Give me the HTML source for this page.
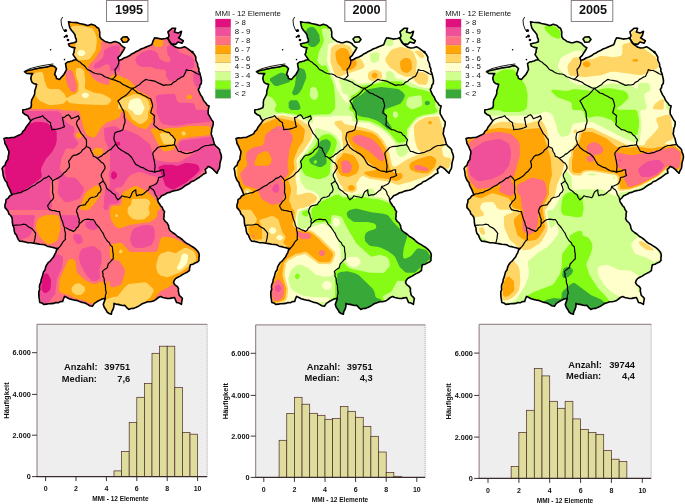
<!DOCTYPE html><html><head><meta charset="utf-8"><title>MMI - 12 Elemente</title>
<style>html,body{margin:0;padding:0;background:#fff}svg{display:block}text{font-family:"Liberation Sans",sans-serif;fill:#111}.b{font-weight:bold}</style></head><body>
<svg width="685" height="504" viewBox="0 0 685 504">
<rect width="685" height="504" fill="#fff"/>
<defs>
<clipPath id="ger"><path d="M68.5 21.9 L71.2 22.3 L74.0 22.5 L76.8 22.6 L79.4 23.5 L82.1 24.0 L84.7 24.6 L87.3 25.5 L89.3 25.1 L91.3 24.3 L95.0 25.5 L96.6 27.2 L98.6 28.3 L99.8 32.0 L99.7 34.4 L99.8 36.8 L101.2 38.8 L103.2 40.2 L104.9 41.4 L107.0 42.0 L109.0 42.7 L111.1 42.7 L113.1 42.1 L115.0 41.5 L118.0 42.5 L119.8 43.4 L121.0 45.0 L122.8 46.6 L124.9 47.7 L123.5 50.3 L121.9 52.7 L120.3 55.4 L117.9 57.6 L118.9 60.6 L121.6 59.5 L124.0 58.0 L126.9 56.9 L129.8 55.6 L131.6 54.0 L133.9 53.1 L135.8 51.7 L138.5 50.6 L141.0 49.0 L143.9 48.0 L146.7 46.7 L149.2 45.7 L151.7 44.7 L152.5 42.9 L153.0 41.0 L154.6 37.8 L156.8 38.1 L159.0 38.5 L161.3 39.1 L163.6 38.8 L165.6 38.5 L167.5 37.8 L168.8 39.8 L169.5 42.0 L171.4 44.2 L173.8 45.8 L176.0 47.3 L178.6 48.0 L181.6 47.7 L184.5 46.8 L187.0 48.1 L189.3 49.8 L191.7 51.7 L194.0 53.9 L195.8 57.0 L195.8 60.0 L196.7 62.0 L197.6 64.0 L197.7 66.4 L198.9 68.7 L198.8 71.2 L199.8 73.0 L200.3 75.0 L201.0 77.8 L201.5 80.5 L201.3 83.4 L199.9 85.2 L199.6 87.5 L198.3 89.4 L199.3 92.2 L200.6 94.9 L202.3 97.3 L203.3 99.9 L204.6 101.7 L206.1 103.3 L207.2 105.2 L209.2 105.9 L208.5 108.5 L208.1 111.1 L208.2 113.8 L209.4 115.8 L210.5 117.9 L211.7 119.9 L213.2 121.7 L213.2 124.2 L212.7 126.5 L211.8 128.9 L211.6 131.3 L211.2 133.7 L212.0 136.2 L213.0 138.5 L213.6 141.1 L214.2 143.6 L215.6 145.9 L217.7 147.6 L219.5 149.5 L220.0 152.0 L221.0 154.4 L221.5 157.0 L221.0 159.2 L220.4 161.5 L219.9 163.7 L219.8 166.0 L219.3 168.6 L217.9 170.8 L217.1 173.3 L215.1 171.4 L213.2 169.4 L210.9 167.6 L208.2 166.4 L206.9 168.1 L205.2 169.4 L206.0 173.0 L203.6 174.0 L201.6 175.6 L199.5 177.2 L197.3 178.5 L195.3 179.8 L193.4 181.1 L191.1 181.8 L189.4 183.5 L186.8 184.8 L184.3 186.3 L182.0 188.2 L179.4 189.5 L177.1 190.3 L174.6 190.6 L172.2 191.2 L169.9 192.4 L167.5 192.8 L165.6 194.0 L163.6 194.9 L161.6 195.8 L159.8 198.0 L157.6 199.8 L158.2 202.0 L159.4 203.8 L160.6 205.7 L162.3 207.4 L163.1 209.8 L164.6 211.7 L164.0 214.0 L164.1 216.3 L163.6 218.6 L165.0 221.1 L167.2 223.0 L168.5 225.6 L168.9 228.2 L170.0 230.5 L172.5 232.5 L175.2 234.2 L177.5 236.5 L180.0 237.8 L182.2 239.5 L184.2 241.5 L186.4 243.2 L188.8 244.4 L191.0 245.8 L193.3 247.2 L195.4 248.9 L197.3 250.8 L198.8 253.0 L199.3 255.5 L198.9 258.0 L199.0 260.5 L197.4 262.1 L195.3 262.9 L193.0 264.2 L190.4 264.7 L189.7 267.7 L189.4 270.7 L187.2 272.2 L184.8 273.4 L182.4 274.6 L180.2 276.1 L177.8 277.3 L175.5 278.6 L174.2 280.5 L173.5 282.6 L174.9 284.8 L177.1 286.3 L178.5 288.5 L178.3 290.9 L178.8 293.2 L179.4 295.5 L181.0 296.9 L182.4 298.5 L181.8 301.4 L181.4 304.4 L179.1 303.1 L176.5 302.4 L175.5 300.0 L174.5 297.5 L172.2 297.9 L169.9 298.4 L167.5 298.5 L165.2 298.0 L162.8 297.5 L160.6 296.5 L158.4 297.5 L156.5 299.0 L154.6 300.4 L152.4 301.2 L150.2 301.8 L147.9 301.7 L145.7 302.4 L143.6 303.2 L141.6 304.1 L139.8 305.4 L137.9 306.6 L135.8 307.4 L133.8 308.4 L131.2 308.5 L128.8 309.4 L126.7 307.6 L124.9 305.4 L122.5 305.5 L120.2 304.9 L117.9 304.4 L115.9 304.1 L114.0 303.4 L113.9 306.5 L113.0 309.4 L111.8 311.7 L111.3 314.3 L109.2 313.5 L107.3 312.3 L105.9 309.7 L104.2 307.2 L103.3 304.4 L104.4 301.4 L105.3 298.4 L102.2 299.0 L99.4 300.4 L96.8 301.8 L94.4 303.4 L92.4 306.3 L89.8 305.8 L87.5 304.4 L85.0 303.0 L82.2 302.4 L79.5 301.4 L77.0 300.4 L74.2 300.1 L71.6 299.4 L69.1 298.8 L66.9 297.5 L64.6 296.4 L63.5 298.8 L62.7 301.4 L60.4 301.6 L58.3 302.7 L55.9 302.5 L53.7 303.4 L51.2 303.6 L48.7 303.8 L46.3 304.1 L43.8 304.4 L42.0 303.0 L39.8 302.4 L39.4 299.7 L39.0 297.1 L38.8 294.4 L38.8 291.9 L39.7 289.5 L39.4 287.0 L39.8 284.5 L40.9 282.1 L41.2 279.5 L42.2 277.1 L42.8 274.6 L43.5 272.0 L45.1 269.8 L45.6 267.1 L46.8 264.7 L48.3 262.5 L50.4 260.8 L52.0 258.8 L53.7 256.7 L54.6 254.6 L55.8 252.6 L56.5 250.3 L58.0 248.5 L55.8 248.4 L53.8 247.6 L51.6 247.3 L49.4 246.6 L47.0 246.2 L45.0 244.9 L42.7 244.5 L39.7 244.3 L36.7 243.6 L33.7 243.3 L30.8 242.8 L27.8 242.8 L25.2 242.0 L22.6 241.4 L19.8 241.3 L18.3 239.5 L17.3 237.4 L16.5 235.1 L14.9 233.4 L14.2 230.8 L14.0 228.0 L12.9 225.5 L12.4 222.8 L12.3 220.2 L11.9 217.5 L10.6 215.5 L8.8 213.8 L8.1 211.3 L6.6 209.4 L5.0 207.6 L4.9 204.9 L5.8 202.3 L6.0 199.7 L8.1 198.2 L9.6 196.0 L11.9 194.7 L10.9 192.4 L10.0 190.1 L8.9 187.8 L7.6 185.3 L6.9 182.6 L5.1 180.4 L4.0 177.9 L3.2 175.6 L3.0 173.3 L2.7 170.9 L2.0 168.6 L3.2 166.6 L5.0 165.3 L5.6 163.2 L6.5 161.2 L7.9 159.4 L8.1 156.7 L8.7 154.1 L8.9 151.4 L7.6 148.8 L6.5 146.1 L5.0 143.5 L4.6 141.0 L4.0 138.5 L6.4 137.9 L8.9 138.0 L11.4 137.5 L13.9 137.5 L16.6 136.3 L19.2 135.1 L21.8 133.6 L22.9 131.4 L24.7 129.8 L25.8 127.6 L27.5 125.3 L29.3 123.1 L30.8 120.7 L29.0 118.4 L27.8 115.7 L25.1 114.5 L22.8 112.7 L22.8 109.8 L25.6 109.5 L28.2 108.7 L30.8 107.8 L31.4 105.2 L31.3 102.5 L31.7 99.8 L32.8 97.9 L33.8 95.9 L34.7 93.9 L34.8 90.9 L35.7 88.0 L36.7 84.4 L34.2 83.8 L32.1 82.4 L31.3 80.5 L30.8 78.5 L31.3 75.8 L32.7 73.5 L29.8 73.6 L26.8 73.5 L24.8 71.9 L27.2 70.7 L29.8 70.1 L32.3 69.7 L34.7 68.9 L37.3 68.6 L39.7 67.9 L42.3 67.6 L44.9 67.2 L47.5 66.9 L50.0 65.9 L52.6 65.6 L54.7 66.8 L56.5 68.5 L55.5 71.5 L54.6 74.5 L56.0 76.3 L56.5 78.5 L59.5 79.4 L60.9 77.7 L62.4 76.1 L63.9 74.5 L65.3 72.0 L66.5 69.5 L66.0 66.5 L65.5 63.6 L67.5 62.0 L69.8 61.6 L72.0 61.0 L74.1 60.0 L76.4 59.6 L74.8 57.1 L73.0 54.6 L74.0 52.4 L74.2 50.0 L75.0 47.7 L72.1 47.4 L69.4 46.1 L68.5 44.1 L71.1 43.3 L73.8 42.7 L76.4 41.7 L76.3 39.3 L75.3 37.1 L75.0 34.8 L73.3 32.4 L71.4 30.3 L69.8 27.9 L69.1 24.9Z"/>
<path d="M167.9 31.9 L172.0 28.3 L175.6 28.3 L174.4 31.9 L178.0 33.1 L181.5 31.3 L180.4 35.5 L178.6 37.9 L183.3 40.8 L182.1 43.2 L178.0 42.0 L175.6 44.4 L171.4 43.8 L167.9 39.0 L169.0 35.5Z"/>
<path d="M121.0 39.0 L123.0 37.0 L127.0 36.8 L129.0 39.5 L127.0 42.0 L123.0 42.3Z"/>
</clipPath>
<g id="lines" fill="none" stroke="#000" stroke-linejoin="round" stroke-linecap="round">
<path stroke-width="1.6" d="M68.5 21.9 L71.2 22.3 L74.0 22.5 L76.8 22.6 L79.4 23.5 L82.1 24.0 L84.7 24.6 L87.3 25.5 L89.3 25.1 L91.3 24.3 L95.0 25.5 L96.6 27.2 L98.6 28.3 L99.8 32.0 L99.7 34.4 L99.8 36.8 L101.2 38.8 L103.2 40.2 L104.9 41.4 L107.0 42.0 L109.0 42.7 L111.1 42.7 L113.1 42.1 L115.0 41.5 L118.0 42.5 L119.8 43.4 L121.0 45.0 L122.8 46.6 L124.9 47.7 L123.5 50.3 L121.9 52.7 L120.3 55.4 L117.9 57.6 L118.9 60.6 L121.6 59.5 L124.0 58.0 L126.9 56.9 L129.8 55.6 L131.6 54.0 L133.9 53.1 L135.8 51.7 L138.5 50.6 L141.0 49.0 L143.9 48.0 L146.7 46.7 L149.2 45.7 L151.7 44.7 L152.5 42.9 L153.0 41.0 L154.6 37.8 L156.8 38.1 L159.0 38.5 L161.3 39.1 L163.6 38.8 L165.6 38.5 L167.5 37.8 L168.8 39.8 L169.5 42.0 L171.4 44.2 L173.8 45.8 L176.0 47.3 L178.6 48.0 L181.6 47.7 L184.5 46.8 L187.0 48.1 L189.3 49.8 L191.7 51.7 L194.0 53.9 L195.8 57.0 L195.8 60.0 L196.7 62.0 L197.6 64.0 L197.7 66.4 L198.9 68.7 L198.8 71.2 L199.8 73.0 L200.3 75.0 L201.0 77.8 L201.5 80.5 L201.3 83.4 L199.9 85.2 L199.6 87.5 L198.3 89.4 L199.3 92.2 L200.6 94.9 L202.3 97.3 L203.3 99.9 L204.6 101.7 L206.1 103.3 L207.2 105.2 L209.2 105.9 L208.5 108.5 L208.1 111.1 L208.2 113.8 L209.4 115.8 L210.5 117.9 L211.7 119.9 L213.2 121.7 L213.2 124.2 L212.7 126.5 L211.8 128.9 L211.6 131.3 L211.2 133.7 L212.0 136.2 L213.0 138.5 L213.6 141.1 L214.2 143.6 L215.6 145.9 L217.7 147.6 L219.5 149.5 L220.0 152.0 L221.0 154.4 L221.5 157.0 L221.0 159.2 L220.4 161.5 L219.9 163.7 L219.8 166.0 L219.3 168.6 L217.9 170.8 L217.1 173.3 L215.1 171.4 L213.2 169.4 L210.9 167.6 L208.2 166.4 L206.9 168.1 L205.2 169.4 L206.0 173.0 L203.6 174.0 L201.6 175.6 L199.5 177.2 L197.3 178.5 L195.3 179.8 L193.4 181.1 L191.1 181.8 L189.4 183.5 L186.8 184.8 L184.3 186.3 L182.0 188.2 L179.4 189.5 L177.1 190.3 L174.6 190.6 L172.2 191.2 L169.9 192.4 L167.5 192.8 L165.6 194.0 L163.6 194.9 L161.6 195.8 L159.8 198.0 L157.6 199.8 L158.2 202.0 L159.4 203.8 L160.6 205.7 L162.3 207.4 L163.1 209.8 L164.6 211.7 L164.0 214.0 L164.1 216.3 L163.6 218.6 L165.0 221.1 L167.2 223.0 L168.5 225.6 L168.9 228.2 L170.0 230.5 L172.5 232.5 L175.2 234.2 L177.5 236.5 L180.0 237.8 L182.2 239.5 L184.2 241.5 L186.4 243.2 L188.8 244.4 L191.0 245.8 L193.3 247.2 L195.4 248.9 L197.3 250.8 L198.8 253.0 L199.3 255.5 L198.9 258.0 L199.0 260.5 L197.4 262.1 L195.3 262.9 L193.0 264.2 L190.4 264.7 L189.7 267.7 L189.4 270.7 L187.2 272.2 L184.8 273.4 L182.4 274.6 L180.2 276.1 L177.8 277.3 L175.5 278.6 L174.2 280.5 L173.5 282.6 L174.9 284.8 L177.1 286.3 L178.5 288.5 L178.3 290.9 L178.8 293.2 L179.4 295.5 L181.0 296.9 L182.4 298.5 L181.8 301.4 L181.4 304.4 L179.1 303.1 L176.5 302.4 L175.5 300.0 L174.5 297.5 L172.2 297.9 L169.9 298.4 L167.5 298.5 L165.2 298.0 L162.8 297.5 L160.6 296.5 L158.4 297.5 L156.5 299.0 L154.6 300.4 L152.4 301.2 L150.2 301.8 L147.9 301.7 L145.7 302.4 L143.6 303.2 L141.6 304.1 L139.8 305.4 L137.9 306.6 L135.8 307.4 L133.8 308.4 L131.2 308.5 L128.8 309.4 L126.7 307.6 L124.9 305.4 L122.5 305.5 L120.2 304.9 L117.9 304.4 L115.9 304.1 L114.0 303.4 L113.9 306.5 L113.0 309.4 L111.8 311.7 L111.3 314.3 L109.2 313.5 L107.3 312.3 L105.9 309.7 L104.2 307.2 L103.3 304.4 L104.4 301.4 L105.3 298.4 L102.2 299.0 L99.4 300.4 L96.8 301.8 L94.4 303.4 L92.4 306.3 L89.8 305.8 L87.5 304.4 L85.0 303.0 L82.2 302.4 L79.5 301.4 L77.0 300.4 L74.2 300.1 L71.6 299.4 L69.1 298.8 L66.9 297.5 L64.6 296.4 L63.5 298.8 L62.7 301.4 L60.4 301.6 L58.3 302.7 L55.9 302.5 L53.7 303.4 L51.2 303.6 L48.7 303.8 L46.3 304.1 L43.8 304.4 L42.0 303.0 L39.8 302.4 L39.4 299.7 L39.0 297.1 L38.8 294.4 L38.8 291.9 L39.7 289.5 L39.4 287.0 L39.8 284.5 L40.9 282.1 L41.2 279.5 L42.2 277.1 L42.8 274.6 L43.5 272.0 L45.1 269.8 L45.6 267.1 L46.8 264.7 L48.3 262.5 L50.4 260.8 L52.0 258.8 L53.7 256.7 L54.6 254.6 L55.8 252.6 L56.5 250.3 L58.0 248.5 L55.8 248.4 L53.8 247.6 L51.6 247.3 L49.4 246.6 L47.0 246.2 L45.0 244.9 L42.7 244.5 L39.7 244.3 L36.7 243.6 L33.7 243.3 L30.8 242.8 L27.8 242.8 L25.2 242.0 L22.6 241.4 L19.8 241.3 L18.3 239.5 L17.3 237.4 L16.5 235.1 L14.9 233.4 L14.2 230.8 L14.0 228.0 L12.9 225.5 L12.4 222.8 L12.3 220.2 L11.9 217.5 L10.6 215.5 L8.8 213.8 L8.1 211.3 L6.6 209.4 L5.0 207.6 L4.9 204.9 L5.8 202.3 L6.0 199.7 L8.1 198.2 L9.6 196.0 L11.9 194.7 L10.9 192.4 L10.0 190.1 L8.9 187.8 L7.6 185.3 L6.9 182.6 L5.1 180.4 L4.0 177.9 L3.2 175.6 L3.0 173.3 L2.7 170.9 L2.0 168.6 L3.2 166.6 L5.0 165.3 L5.6 163.2 L6.5 161.2 L7.9 159.4 L8.1 156.7 L8.7 154.1 L8.9 151.4 L7.6 148.8 L6.5 146.1 L5.0 143.5 L4.6 141.0 L4.0 138.5 L6.4 137.9 L8.9 138.0 L11.4 137.5 L13.9 137.5 L16.6 136.3 L19.2 135.1 L21.8 133.6 L22.9 131.4 L24.7 129.8 L25.8 127.6 L27.5 125.3 L29.3 123.1 L30.8 120.7 L29.0 118.4 L27.8 115.7 L25.1 114.5 L22.8 112.7 L22.8 109.8 L25.6 109.5 L28.2 108.7 L30.8 107.8 L31.4 105.2 L31.3 102.5 L31.7 99.8 L32.8 97.9 L33.8 95.9 L34.7 93.9 L34.8 90.9 L35.7 88.0 L36.7 84.4 L34.2 83.8 L32.1 82.4 L31.3 80.5 L30.8 78.5 L31.3 75.8 L32.7 73.5 L29.8 73.6 L26.8 73.5 L24.8 71.9 L27.2 70.7 L29.8 70.1 L32.3 69.7 L34.7 68.9 L37.3 68.6 L39.7 67.9 L42.3 67.6 L44.9 67.2 L47.5 66.9 L50.0 65.9 L52.6 65.6 L54.7 66.8 L56.5 68.5 L55.5 71.5 L54.6 74.5 L56.0 76.3 L56.5 78.5 L59.5 79.4 L60.9 77.7 L62.4 76.1 L63.9 74.5 L65.3 72.0 L66.5 69.5 L66.0 66.5 L65.5 63.6 L67.5 62.0 L69.8 61.6 L72.0 61.0 L74.1 60.0 L76.4 59.6 L74.8 57.1 L73.0 54.6 L74.0 52.4 L74.2 50.0 L75.0 47.7 L72.1 47.4 L69.4 46.1 L68.5 44.1 L71.1 43.3 L73.8 42.7 L76.4 41.7 L76.3 39.3 L75.3 37.1 L75.0 34.8 L73.3 32.4 L71.4 30.3 L69.8 27.9 L69.1 24.9ZM167.9 31.9 L172.0 28.3 L175.6 28.3 L174.4 31.9 L178.0 33.1 L181.5 31.3 L180.4 35.5 L178.6 37.9 L183.3 40.8 L182.1 43.2 L178.0 42.0 L175.6 44.4 L171.4 43.8 L167.9 39.0 L169.0 35.5ZM121.0 39.0 L123.0 37.0 L127.0 36.8 L129.0 39.5 L127.0 42.0 L123.0 42.3Z"/>
<path stroke-width="1.2" d="M76.4 59.6 L78.2 61.2 L80.3 62.3 L82.0 64.0 L84.1 65.5 L85.8 67.4 L87.3 69.5 L90.0 70.6 L92.5 72.3 L95.2 73.5 L97.6 73.9 L100.0 74.0 L102.5 75.0 L104.6 76.7 L107.1 77.5 L109.5 78.5 L112.0 79.4 L115.0 80.1 L117.9 81.4 L120.3 82.3 L122.3 84.1 L124.6 85.2 L126.9 86.4 L129.7 87.8 L132.8 88.4M118.9 60.6 L118.7 63.2 L117.9 65.6 L116.7 67.7 L115.0 69.5 L115.3 72.5 L116.0 75.5 L114.2 77.6 L112.0 79.4M132.8 88.4 L135.2 87.3 L137.5 85.8 L139.8 84.4 L141.5 82.4 L143.6 81.0 L145.7 79.4 L148.1 80.0 L150.7 80.3 L153.2 80.8 L155.6 81.4 L158.2 82.9 L160.9 84.1 L163.6 85.4 L166.2 84.9 L168.9 85.0 L171.5 84.4 L173.2 82.4 L175.7 81.3 L177.5 79.4 L179.5 78.5 L181.2 77.1 L183.4 76.5 L184.5 74.2 L185.6 71.9 L186.4 69.5 L188.6 70.5 L191.1 70.5 L193.3 71.5 L195.3 72.6 L197.2 73.7 L199.3 74.5M132.8 88.4 L134.3 90.1 L136.1 91.5 L137.8 93.0 L140.4 93.6 L142.7 95.0 L145.4 96.2 L148.0 97.7 L150.7 98.9 L151.5 101.2 L152.2 103.5 L152.7 105.9 L151.9 108.2 L151.3 110.5 L150.7 112.8 L152.7 114.2 L154.6 115.8 L154.1 118.7 L154.4 121.8 L153.7 124.7 L155.5 126.6 L157.6 128.1 L159.6 129.7 L162.2 130.0 L164.5 131.3 L167.0 132.2 L169.5 132.7 L170.7 134.7 L172.7 136.0 L173.9 137.9 L175.5 139.6 L174.7 142.0 L174.5 144.6M132.8 88.4 L131.0 89.9 L129.5 91.6 L127.9 93.3 L126.2 95.1 L124.0 96.4 L121.8 97.7 L119.9 99.3 L117.9 100.9 L119.2 103.0 L120.4 105.2 L121.4 107.5 L122.7 109.6 L123.9 111.8 L124.3 114.5 L124.2 117.3 L125.0 119.9 L124.9 122.7 L123.9 124.9 L123.5 127.3 L122.9 129.7 L120.4 131.1 L117.6 131.6 L115.0 132.7 L114.4 135.0 L114.0 137.2 L114.0 139.6 L115.0 141.7 L115.5 144.0M115.5 144.0 L114.2 145.9 L112.4 147.5 L111.1 149.4 L108.9 150.3 L107.1 151.8 L105.3 153.4 L103.2 154.4 L101.5 156.1 L99.4 157.3 L97.2 158.4M115.5 144.0 L116.9 145.6 L117.9 147.5 L119.8 149.0 L121.7 150.5 L123.9 151.5 L125.8 152.9 L128.0 153.9 L129.8 155.5 L131.7 157.5 L133.0 159.8 L134.3 162.2 L135.8 164.4 L138.3 165.7 L140.6 167.1 L143.4 167.8 L145.7 169.4 L147.8 170.5 L150.0 171.2 L152.4 171.4 L154.6 172.3M174.5 144.6 L172.2 145.1 L169.8 145.3 L167.5 145.6 L165.1 146.4 L162.5 146.4 L160.0 146.7 L157.6 147.5 L155.9 149.5 L154.1 151.3 L152.7 153.5 L153.2 156.0 L153.7 158.4 L154.3 160.9 L154.6 163.4 L155.1 166.4 L154.7 169.3 L154.6 172.3M174.5 144.6 L176.0 146.8 L177.2 149.2 L178.5 151.5 L180.8 151.6 L182.9 152.7 L185.1 153.3 L187.4 153.5 L189.9 152.8 L192.5 152.3 L194.8 151.2 L197.3 150.5 L199.3 149.2 L201.2 147.7 L203.3 146.5 L205.9 145.5 L208.7 145.4 L211.4 144.8 L214.2 144.6M154.6 172.3 L156.8 171.4 L159.1 171.2 L161.2 170.0 L163.6 169.8 L163.6 172.7 L164.6 175.5 L161.7 176.8 L158.6 177.5 L158.0 180.6 L156.6 183.5 L154.4 184.7 L152.1 185.8 L149.7 186.5M149.7 186.5 L151.2 188.4 L153.3 189.7 L154.6 191.8 L155.3 194.6 L157.0 197.0 L157.6 199.8M149.7 186.5 L148.7 189.8 L146.1 191.6 L143.7 193.8 L141.5 194.9 L139.0 194.9 L136.8 195.8 L135.9 192.9 L135.8 189.8 L132.8 191.8 L131.7 193.7 L131.0 195.9 L129.8 197.8 L127.2 197.0 L124.5 196.7 L121.9 195.8 L120.2 198.1 L117.9 199.8 L116.1 197.5 L115.1 194.7 L112.6 193.3 L110.6 191.2 L108.1 189.8 L106.5 187.8 L105.9 185.3 L104.6 183.1 L103.2 181.0M97.2 158.4 L99.2 160.0 L101.0 161.9 L103.2 163.3 L104.6 165.5 L105.2 168.0 L103.9 170.2 L102.5 172.3 L101.2 174.5 L101.4 176.8 L102.6 178.8 L103.2 181.0M103.2 181.0 L101.2 182.4 L99.2 183.8 L100.4 186.7 L101.2 189.8 L100.2 192.0 L98.2 193.5 L97.2 195.7 L94.7 197.0 L91.8 197.3 L89.3 198.7 L88.2 200.8 L86.5 202.5 L85.3 204.6 L83.0 205.2 L80.6 205.5 L78.4 206.6M78.4 206.6 L77.1 209.0 L76.4 211.6 L77.7 214.1 L78.2 216.9 L79.4 219.5 L78.9 221.5 L79.4 223.5 L78.4 226.5 L76.5 227.9 L75.3 230.0 L73.4 231.4M79.4 223.5 L81.4 222.2 L83.1 220.5 L85.3 219.5 L88.0 219.2 L90.6 219.7 L93.3 219.5 L94.8 221.5 L95.9 223.8 L97.6 225.6 L99.2 227.5 L100.5 229.5 L101.8 231.5 L103.2 233.4 L104.1 235.8 L105.3 238.0 L107.3 241.0 L109.3 242.6 L110.3 245.1 L112.3 246.8 L112.6 249.2 L112.7 251.6 L113.3 253.9 L113.2 256.3 L113.3 258.7 L111.6 260.3 L110.0 262.1 L108.3 263.7 L107.8 265.7 L107.3 267.7 L104.6 269.4 L102.3 271.6 L103.1 273.8 L102.9 276.2 L104.1 278.3 L104.3 280.6 L104.5 283.0 L105.4 285.3 L105.5 287.7 L105.6 290.2 L106.3 292.5 L105.4 295.4 L105.3 298.4M52.6 180.8 L52.4 183.8 L52.7 186.8 L52.6 189.8 L52.5 192.5 L53.4 195.1 L53.6 197.7 L52.4 199.9 L50.4 201.5 L49.1 203.6 L47.6 205.6 L48.4 207.7 L49.6 209.6 L52.0 210.3 L54.5 210.7 L57.0 211.3 L59.5 211.6 L60.0 214.3 L60.8 216.9 L61.5 219.5 L62.7 222.1 L63.3 224.9 L64.5 227.5 L66.9 228.3 L69.0 229.6 L71.4 230.4 L73.4 231.4M64.5 227.5 L64.5 229.9 L65.2 232.2 L65.5 234.6 L65.1 237.0 L65.5 239.4 L63.7 241.0 L62.3 242.9 L61.2 245.0 L59.6 246.8 L58.0 248.5M86.3 146.5 L84.7 148.4 L82.6 149.7 L81.3 151.9 L79.4 153.4 L76.6 154.9 L73.4 155.4 L71.5 157.2 L70.2 159.4 L68.5 161.3 L69.4 164.2 L69.4 167.3 L67.5 169.4 L65.8 171.6 L63.5 173.3 L61.8 175.4 L59.5 177.0 L57.3 178.4 L54.9 179.5 L52.6 180.8M11.9 194.7 L14.0 193.8 L16.3 193.6 L18.5 192.8 L20.8 192.7 L22.9 191.2 L25.4 190.4 L27.7 189.2 L29.8 187.8 L32.2 186.2 L34.9 185.1 L37.1 183.1 L39.7 181.8 L41.9 180.2 L43.9 178.4 L46.6 177.6 L48.6 175.9 L50.9 178.1 L52.6 180.8M30.8 120.7 L33.2 119.0 L36.0 118.0 L38.3 117.4 L40.6 116.8 L42.7 115.7 L43.9 117.4 L45.6 118.7 L47.9 121.0 L50.6 122.7 L50.6 125.0 L51.5 127.3 L51.6 129.6 L54.2 129.3 L56.9 129.2 L59.5 128.6 L62.1 127.8 L64.5 126.6 L63.6 124.5 L63.4 122.2 L62.8 120.0 L62.5 117.7 L64.7 117.1 L66.4 115.5 L68.5 114.7 L70.2 116.5 L71.4 118.7 L73.7 117.7 L76.2 116.9 L78.4 115.7 L79.4 118.7 L77.5 120.4 L76.4 122.7 L76.9 125.1 L78.0 127.2 L79.1 129.3 L80.2 131.5 L81.3 133.6 L83.1 135.4 L84.6 137.6 L86.3 139.5 L86.5 141.8 L86.5 144.2 L86.3 146.5M86.3 146.5 L88.4 147.3 L90.3 148.5 L91.0 151.2 L92.6 153.7 L93.3 156.4 L95.5 157.0 L97.2 158.4M12.9 225.5 L15.5 225.1 L18.1 225.0 L20.7 225.0 L23.2 224.2 L25.8 224.5 L27.5 226.2 L29.6 227.4 L31.7 228.5 L33.9 230.8 L35.7 233.4 L35.3 235.9 L35.0 238.4 L34.4 240.9 L33.7 243.3"/>M173.5 108.8 L177.5 105.9 L182.4 104.9 L186.4 109.8 L188.4 113.8 L184.4 115.8 L175.5 115.8 L173.5 112.8 L173.5 108.8M96.0 72.0 L99.0 68.0 L103.0 70.0 L107.0 72.0 L106.0 77.0 L102.0 79.0 L98.0 77.0 L96.0 72.0
<path stroke-width="0.9" d="M62.5 17.3 L61.0 20.0 L61.5 25.0 L63.0 29.0 L64.5 31.5M24.0 71.5 L30.0 68.6 L38.0 66.5 L46.0 65.0 L53.0 64.0"/>
<circle cx="65.5" cy="30.5" r="1.6" fill="#000" stroke="none"/>
<circle cx="66.5" cy="36.0" r="1.5" fill="#000" stroke="none"/>
<circle cx="68.0" cy="40.0" r="1.3" fill="#000" stroke="none"/>
<circle cx="64.5" cy="37.0" r="0.9" fill="#000" stroke="none"/>
<circle cx="50.6" cy="49.7" r="0.8" fill="#000" stroke="none"/>
<circle cx="64.5" cy="59.6" r="0.8" fill="#000" stroke="none"/>
<circle cx="192.5" cy="52.0" r="1.2" fill="#000" stroke="none"/>
</g>
</defs>
<g transform="translate(0,0)">
<g clip-path="url(#ger)">
<rect x="0" y="0" width="232" height="332" fill="#FFFFCC"/>
<path fill="#FFD666" fill-rule="evenodd" d="M67.0 20.3 67.0 23.7 68.3 29.0 73.7 36.0 74.3 38.7 74.0 40.7 67.0 42.7 67.0 45.7 67.7 47.0 73.0 49.0 71.7 52.7 71.7 55.7 73.3 58.3 71.0 59.7 66.0 60.7 64.0 62.0 64.7 68.7 62.7 72.7 58.7 77.3 57.3 76.7 56.3 74.7 57.7 70.0 57.7 67.0 53.7 64.0 50.3 64.0 37.7 66.3 23.3 70.3 23.3 73.0 25.3 74.7 30.0 75.0 29.3 76.7 29.3 80.0 30.3 83.0 34.7 85.7 33.3 92.3 30.3 98.0 29.3 106.0 28.7 106.7 21.3 108.3 21.3 114.0 26.0 116.7 28.3 120.7 20.0 132.3 12.7 136.0 2.7 137.0 2.7 140.3 3.7 145.0 7.0 151.7 6.3 158.3 3.7 163.7 0.7 167.0 0.7 170.3 2.7 179.3 9.3 193.3 9.3 194.3 4.7 198.3 3.7 208.7 10.3 218.7 11.3 227.3 13.0 234.0 18.3 242.3 25.7 244.0 40.0 245.3 55.3 249.7 52.7 255.0 45.3 263.3 40.7 274.7 38.3 282.7 37.3 291.3 37.3 297.0 38.3 303.7 42.3 305.7 55.7 304.7 64.0 302.7 65.7 298.7 69.7 300.7 77.3 302.3 90.7 307.3 93.7 307.3 96.0 304.3 101.7 301.3 101.7 305.7 105.3 313.0 109.7 315.3 112.3 315.3 114.3 311.0 115.3 305.3 123.3 306.7 127.3 310.7 130.7 310.7 135.3 309.7 147.0 303.7 155.7 301.7 160.7 298.3 165.7 299.7 173.0 299.0 175.0 303.7 179.7 305.7 182.7 305.7 183.7 297.0 180.7 294.0 179.7 287.0 175.3 282.0 177.0 279.3 190.3 272.3 191.7 266.3 200.3 261.7 200.0 251.7 194.0 245.3 187.0 241.3 171.3 229.0 169.3 223.3 165.0 217.7 165.7 210.3 161.3 204.0 159.7 200.0 162.7 197.0 169.3 193.7 180.0 191.0 207.0 174.7 207.0 170.0 208.3 168.7 211.3 170.3 215.7 174.3 218.3 174.3 221.0 167.7 222.7 159.0 222.7 155.3 221.0 148.7 215.3 142.0 212.7 133.7 214.3 123.7 214.3 120.3 209.7 113.0 210.3 104.3 208.3 103.7 204.7 99.0 200.0 89.3 202.3 84.7 202.3 80.7 201.3 73.3 199.7 68.7 199.0 63.7 197.0 59.0 197.0 55.7 194.7 51.7 186.3 45.7 182.3 45.3 179.0 46.3 177.3 45.3 178.7 44.0 183.3 44.3 184.3 42.3 184.3 39.3 181.3 37.3 182.7 33.0 182.7 29.7 180.0 29.7 177.3 31.0 176.3 30.3 176.7 26.7 170.7 26.7 166.3 30.3 166.3 33.3 167.3 35.3 166.7 36.3 162.7 37.3 153.0 36.3 150.7 42.7 149.7 43.7 141.0 47.0 133.0 51.0 129.7 53.3 120.3 57.7 120.0 57.3 123.3 53.7 126.0 49.0 126.0 46.3 122.3 43.7 128.3 43.3 130.3 40.7 130.3 38.0 128.3 35.3 121.7 35.7 119.7 37.7 119.7 41.3 116.7 40.0 113.3 40.0 109.7 41.0 104.3 38.7 101.0 35.3 101.0 30.3 100.0 27.3 95.7 23.7 92.7 22.7 89.3 22.7 86.7 23.7 78.0 21.3ZM186.0 253.7 188.0 255.3 188.0 258.3 186.7 263.7 182.3 268.3 179.7 270.0 178.3 270.0 177.0 268.7 177.0 267.3 180.0 262.0 181.3 256.0 182.7 254.0 184.7 253.3ZM130.3 100.0 135.7 98.3 138.7 98.3 140.7 99.7 144.7 108.0 142.0 113.3 140.7 114.7 136.7 115.0 135.0 114.3 131.7 110.3 130.3 110.0 128.3 108.3 128.3 104.3ZM81.7 95.0 83.3 93.0 86.3 92.7 88.7 94.3 89.0 96.0 86.7 98.0 84.0 98.0 82.0 96.3ZM77.3 52.3 79.7 50.0 83.0 50.0 85.3 52.0 85.3 54.0 83.0 56.0 79.7 56.0 77.7 54.3Z"/>
<path fill="#FFA508" fill-rule="evenodd" d="M67.0 20.3 67.0 23.7 68.3 29.0 73.7 36.0 74.3 38.7 74.0 40.7 67.0 42.7 67.0 45.7 67.7 47.0 73.0 49.0 71.7 52.7 71.7 55.7 73.3 58.3 71.0 59.7 66.0 60.7 64.0 62.0 64.7 68.7 61.3 74.3 58.7 77.3 57.3 76.7 56.3 73.3 57.7 70.0 57.7 67.0 53.7 64.0 48.3 64.3 28.0 68.7 23.3 70.3 23.3 73.0 25.3 74.7 30.0 75.0 29.3 76.7 29.3 80.0 30.7 83.7 32.0 84.3 31.7 75.3 34.0 73.3 40.0 71.7 41.7 72.0 43.0 73.3 44.7 81.3 47.0 87.3 49.3 89.0 58.0 89.0 60.3 90.0 64.3 93.7 66.0 97.3 67.0 98.0 71.3 95.3 75.7 94.0 78.3 91.3 78.7 84.0 76.0 75.7 75.7 70.0 77.0 68.0 80.0 68.0 82.3 69.0 84.0 71.3 85.3 79.7 84.7 87.7 85.3 89.0 94.3 92.7 102.3 94.0 110.0 98.0 111.3 99.7 111.0 101.3 107.7 104.7 102.0 105.0 82.0 104.3 71.3 103.3 69.3 102.7 67.0 100.3 66.3 100.3 65.7 101.7 63.0 103.7 53.3 105.0 48.7 105.0 40.0 101.0 37.3 98.3 33.3 91.7 30.3 98.0 29.3 106.0 28.7 106.7 21.3 108.3 21.3 114.0 26.7 117.3 28.3 120.3 20.0 132.3 12.7 136.0 2.7 137.0 2.7 140.3 3.7 145.0 7.0 151.7 6.3 158.3 3.7 163.7 0.7 167.0 0.7 170.3 2.7 179.3 9.3 193.3 9.3 194.3 4.7 198.3 3.7 208.7 10.3 218.7 11.3 227.3 13.0 234.0 18.3 242.3 25.7 244.0 40.0 245.3 55.3 249.7 52.7 255.0 45.3 263.3 40.7 274.7 38.3 282.7 37.3 291.3 37.3 297.0 38.3 303.7 42.3 305.7 55.7 304.7 64.0 302.7 65.7 298.7 69.7 300.7 77.3 302.3 90.7 307.3 93.7 307.3 96.0 304.3 98.3 303.0 98.3 301.3 100.3 299.7 106.7 299.3 112.3 297.3 117.7 296.3 125.0 287.0 128.7 284.0 145.3 282.3 147.7 283.7 153.3 289.0 153.7 291.3 150.3 297.3 143.3 303.0 143.0 305.7 148.0 303.3 155.7 301.7 160.7 298.3 165.7 299.7 173.0 299.0 175.0 303.7 179.7 305.7 182.7 305.7 183.7 297.0 180.7 294.0 179.7 287.0 175.3 282.0 177.0 279.3 190.3 272.3 191.7 266.3 200.3 261.7 200.0 251.7 194.0 245.3 187.0 241.3 171.3 229.0 169.3 223.3 165.0 217.7 165.7 210.3 161.3 204.0 159.7 200.0 162.7 197.0 169.3 193.7 180.0 191.0 207.0 174.7 207.0 170.0 208.3 168.7 211.3 170.3 215.7 174.3 218.3 174.3 221.0 167.7 222.7 159.0 222.7 155.3 221.0 148.7 215.3 142.0 212.7 133.7 214.3 123.7 214.3 120.3 209.7 113.0 210.3 104.3 208.3 103.7 204.7 99.0 200.0 89.3 202.3 84.7 202.3 80.7 201.3 73.3 199.7 68.7 199.0 63.7 197.0 59.0 197.0 55.7 194.7 51.7 186.3 45.7 182.3 45.3 179.0 46.3 177.3 45.3 178.7 44.0 183.3 44.3 184.3 42.3 184.3 39.3 181.3 37.3 182.7 33.0 182.7 29.7 180.0 29.7 177.3 31.0 176.3 30.3 176.7 26.7 170.7 26.7 166.3 30.3 166.3 33.3 167.3 35.3 166.7 36.3 162.7 37.3 153.0 36.3 150.7 42.7 149.7 43.7 141.0 47.0 133.0 51.0 129.7 53.3 120.3 57.7 120.0 57.3 123.3 53.7 126.0 49.0 126.0 46.3 122.3 43.7 128.3 43.3 130.3 40.7 130.3 38.0 128.3 35.3 121.7 35.7 119.7 37.7 119.7 41.3 116.7 40.0 113.3 40.0 109.7 41.0 104.3 38.7 101.0 35.3 101.0 30.3 100.0 27.3 95.7 23.7 92.7 22.7 89.3 22.7 86.7 23.7 78.0 21.3ZM75.3 284.0 78.3 283.3 80.3 283.7 84.3 286.7 85.0 288.0 85.0 290.7 82.0 294.3 80.3 295.0 76.3 295.0 72.3 292.0 71.7 290.7 71.7 288.0 72.3 286.7ZM120.7 249.3 122.7 251.0 122.3 252.3 121.0 253.3 119.7 253.0 118.7 251.7ZM195.0 253.0 196.3 258.3 195.7 261.0 181.0 272.0 167.7 277.3 161.0 275.7 158.0 273.3 156.3 268.3 156.3 264.3 158.3 256.7 160.7 253.7 168.3 251.3 175.7 253.3 184.0 248.0 187.0 248.0 193.0 251.0ZM116.3 214.0 118.0 215.0 118.0 216.3 117.0 217.3 115.3 216.3 115.3 215.0ZM133.0 199.0 146.0 198.7 147.7 199.3 149.7 201.3 150.3 203.7 148.7 206.3 148.7 209.0 149.7 212.7 149.3 214.7 144.3 219.3 138.0 219.7 133.0 219.0 131.7 218.3 129.0 215.3 127.7 212.7 127.7 209.3 128.3 207.0 131.0 204.7 131.7 200.3ZM160.3 133.7 162.0 132.7 164.0 132.7 169.7 134.0 174.0 139.3 174.3 140.7 173.3 143.7 171.7 144.7 166.0 144.3 164.0 143.7 162.7 142.3 160.0 135.3ZM183.7 131.0 186.0 133.0 185.7 134.3 184.0 135.7 182.7 135.3 181.3 133.7 181.7 132.3ZM121.0 99.3 133.7 94.3 137.3 94.3 146.3 98.3 148.3 101.0 149.7 106.0 149.7 109.0 148.0 112.0 148.0 118.0 147.3 119.7 143.7 122.7 141.0 124.0 139.0 124.0 132.0 119.0 129.0 113.3 126.3 110.3 123.7 109.3 118.7 109.0 118.0 108.0 118.3 104.3 119.3 101.0ZM73.0 26.0 81.3 25.7 92.0 28.3 94.7 32.0 97.0 38.7 96.0 48.3 95.3 51.0 90.7 57.7 88.0 59.7 79.7 60.3 76.7 58.7 74.0 55.3 73.3 51.0 76.0 43.3 76.0 39.0 75.0 34.7 71.0 29.0 71.0 27.7Z"/>
<path fill="#FF7080" fill-rule="evenodd" d="M191.3 267.7 177.7 277.0 175.7 279.0 174.0 283.0 171.7 285.3 160.0 291.7 151.7 302.7 155.7 301.7 160.7 298.3 165.7 299.7 173.0 299.0 175.0 303.7 179.7 305.7 182.7 305.7 183.7 297.0 180.7 294.0 179.7 287.0 175.3 282.0 177.0 279.3 190.3 272.3ZM67.3 70.0 66.3 71.0 65.7 73.3 65.7 78.7 68.0 86.3 70.7 91.0 72.0 92.3 74.0 92.3 75.7 91.3 76.7 89.0 76.7 85.0 72.7 71.7 70.3 70.0ZM176.7 26.7 170.7 26.7 166.3 30.3 166.3 33.3 167.3 35.3 166.7 36.3 162.7 37.3 153.0 36.3 150.7 42.7 149.7 43.7 141.0 47.0 120.7 57.7 120.0 57.3 123.3 53.7 126.0 49.0 126.0 46.3 122.3 43.7 128.3 43.3 130.3 40.7 130.3 38.0 128.7 35.7 121.7 35.7 119.7 37.7 119.7 41.3 116.7 40.0 113.3 40.0 111.0 41.0 108.3 40.7 104.3 38.7 101.7 36.0 102.3 41.0 100.7 43.7 101.3 47.3 101.0 49.0 94.7 59.3 89.7 64.0 87.7 68.0 88.0 70.7 93.7 79.0 97.7 82.0 106.0 84.7 108.7 84.7 109.7 83.0 109.7 77.7 111.0 75.7 112.7 75.0 118.3 75.3 129.3 80.0 134.3 85.3 136.7 90.3 147.3 95.3 150.0 97.7 152.7 108.0 152.7 119.7 152.0 122.3 146.7 128.7 145.0 129.3 138.3 127.3 133.7 124.7 127.3 119.3 124.7 113.3 122.3 111.7 120.7 112.7 120.3 115.7 119.0 118.0 106.3 122.7 100.7 128.0 96.0 136.0 94.3 137.3 92.0 137.3 88.0 136.0 86.3 134.3 83.0 126.0 80.0 113.3 78.0 110.7 62.7 110.3 58.7 109.0 21.3 109.0 21.3 114.0 26.0 116.7 28.3 120.7 20.0 132.3 12.7 136.0 2.7 137.0 2.7 140.3 3.7 145.0 7.0 151.7 6.3 158.3 3.7 163.7 0.7 167.0 0.7 170.3 2.7 179.3 9.3 193.3 9.3 194.3 4.7 198.3 3.7 208.7 10.3 218.7 11.3 227.3 13.0 234.0 18.3 242.3 25.7 244.0 40.0 245.3 55.3 249.7 52.7 255.0 45.3 263.3 41.3 272.7 38.3 282.7 37.3 291.3 38.3 303.7 42.3 305.7 53.3 305.0 64.0 302.7 65.7 298.7 69.7 300.7 77.3 302.3 90.7 307.3 93.7 307.3 95.7 304.7 94.7 304.0 90.3 303.3 83.3 300.3 74.7 298.3 68.3 295.0 61.0 293.0 59.7 291.7 59.0 289.7 59.7 279.3 67.7 260.7 70.0 258.7 73.3 259.3 75.0 260.7 76.0 263.3 76.3 270.0 77.3 272.7 82.7 278.0 86.3 280.7 92.7 283.7 96.3 283.7 101.0 281.3 102.3 281.3 104.0 283.0 105.7 287.3 106.3 286.7 107.0 281.7 108.0 280.7 109.0 280.7 109.7 281.7 110.0 286.0 111.0 287.3 113.3 287.3 120.3 285.0 122.0 283.0 122.3 280.3 124.7 274.3 125.0 269.7 119.3 261.0 112.0 259.0 110.0 257.3 109.7 246.7 110.0 245.7 112.0 244.0 119.3 242.7 121.7 243.0 129.0 251.0 131.3 252.0 155.0 252.0 156.7 251.3 158.0 249.0 160.0 240.0 162.0 237.0 164.7 236.7 173.7 238.0 178.3 240.0 195.0 249.7 197.7 253.0 198.7 258.3 198.3 261.7 196.3 264.0 200.3 261.7 200.0 251.7 194.0 245.3 187.0 241.3 171.3 229.0 169.3 223.3 165.0 217.7 165.7 210.3 159.7 200.7 159.7 200.0 162.7 197.0 169.3 193.7 180.0 191.0 207.0 174.7 207.0 170.0 208.3 168.7 211.3 170.3 215.7 174.3 218.3 174.3 221.0 167.7 222.7 159.0 222.7 155.3 221.0 148.7 215.3 142.0 212.7 133.7 214.3 123.7 214.3 120.3 209.7 113.0 210.3 104.3 208.3 103.7 204.7 99.0 200.0 89.3 202.3 84.7 202.3 80.7 201.3 73.3 199.7 68.7 199.0 63.7 197.0 59.0 197.0 55.7 194.7 51.7 186.3 45.7 182.3 45.3 179.0 46.3 177.3 45.3 178.7 44.0 183.3 44.3 184.3 42.3 184.3 39.3 181.3 37.3 182.7 33.0 182.7 29.7 180.0 29.7 177.3 31.0 176.3 30.3ZM56.3 214.7 58.7 216.3 60.3 223.7 60.3 228.7 57.7 239.7 55.7 241.7 51.0 243.7 47.7 244.3 45.7 243.3 40.0 237.3 38.0 233.7 36.0 228.0 36.0 225.0 37.0 220.7 39.3 217.7 46.3 215.0ZM158.3 202.3 160.3 207.0 160.3 209.0 157.3 211.3 157.3 215.7 156.3 217.7 150.0 222.3 144.3 222.7 129.7 225.0 121.0 228.0 117.7 228.3 115.0 226.0 111.0 220.0 110.0 214.0 110.0 211.0 111.0 207.0 113.3 205.7 119.0 205.7 121.0 204.7 122.0 200.7 122.3 193.3 125.0 191.0 134.0 186.0 137.3 186.0 148.3 192.3ZM101.0 186.7 102.3 188.7 100.7 194.0 97.7 199.3 91.0 208.0 88.7 210.0 87.3 210.3 81.0 210.0 80.0 208.7 80.0 206.7 85.3 193.3 89.0 189.7 94.7 185.7 96.3 185.3ZM92.7 150.7 95.0 148.3 98.7 147.7 101.7 148.7 103.0 150.0 103.3 152.7 101.7 154.7 97.3 155.7 94.3 154.7 93.0 153.3ZM78.0 132.3 80.3 133.0 81.7 135.0 81.7 136.3 80.0 138.3 78.0 138.3 76.0 136.0 76.3 133.7ZM211.3 132.7 210.3 134.3 208.0 135.3 191.7 137.0 180.0 139.0 177.7 141.0 175.3 147.0 173.0 149.7 167.3 151.3 163.7 151.3 161.7 149.7 157.7 143.3 151.0 130.7 151.0 129.0 151.7 128.3 163.0 129.0 166.7 128.3 177.0 128.0 188.3 126.0 207.0 126.0 209.0 126.3 211.0 128.0ZM186.3 96.7 187.7 95.0 190.3 94.7 192.0 96.0 192.3 97.3 191.0 99.0 188.7 99.3 186.7 98.0ZM168.7 86.0 169.7 85.7 170.0 86.7 169.0 87.0ZM153.0 40.7 155.0 39.3 161.0 39.3 163.0 41.0 163.0 44.3 162.3 45.7 160.3 47.0 155.3 46.7 153.3 44.3ZM123.0 37.3 125.7 37.0 127.3 38.3 127.7 40.3 126.3 42.0 124.0 42.3 122.0 41.0 121.7 39.0Z"/>
<path fill="#F0509A" fill-rule="evenodd" d="M58.7 254.3 56.7 254.3 53.7 255.7 49.0 259.3 45.3 268.7 42.0 273.7 40.7 277.0 39.0 287.0 39.0 295.0 41.7 302.0 43.3 303.3 46.3 303.0 49.3 301.7 55.3 293.7 57.0 278.7 62.0 267.7 63.0 262.0 63.0 257.7 62.3 256.3ZM92.0 246.0 84.7 247.7 81.7 249.0 79.7 252.7 78.7 257.7 81.3 266.3 86.7 275.7 92.0 280.7 95.3 281.0 97.7 280.0 100.3 277.7 99.3 269.0 101.7 261.7 101.7 255.7 100.7 251.0 95.3 247.0ZM74.3 234.3 73.3 236.0 73.3 238.3 75.7 242.7 77.7 244.0 79.3 244.0 81.7 243.0 82.7 241.7 82.7 239.7 81.0 235.3 77.3 234.0ZM153.0 226.3 149.0 225.0 143.7 225.0 134.7 227.7 132.3 231.0 130.0 238.0 130.3 241.0 132.3 246.0 135.0 247.7 143.0 248.0 151.3 245.3 153.0 242.7 155.0 237.3 154.7 229.3ZM85.3 222.0 85.3 226.0 88.3 229.0 92.7 230.3 96.3 229.3 97.7 228.3 97.7 226.0 96.0 222.7 94.7 221.3 93.0 220.7 87.3 220.7ZM61.3 216.0 62.0 220.7 63.7 224.7 68.7 229.7 71.0 230.0 76.3 228.0 78.7 226.3 79.3 224.7 79.3 217.3 78.0 215.3 62.7 215.0ZM10.7 215.7 10.0 218.0 11.3 227.0 12.7 230.3 18.0 238.3 21.0 240.0 29.0 236.7 31.0 233.7 33.0 228.3 35.0 216.3 33.3 215.0 12.0 215.0ZM103.3 208.3 104.3 209.7 106.7 210.0 108.3 208.7 108.7 206.3 110.7 204.0 117.3 203.7 119.3 202.3 119.3 194.3 118.7 193.0 115.3 191.3 114.3 189.7 116.0 188.3 121.3 187.0 123.3 185.0 128.0 177.7 130.7 175.0 136.0 172.7 139.7 171.7 149.7 175.3 156.3 176.7 158.3 178.3 158.0 180.3 151.3 187.7 150.7 190.0 155.7 196.0 159.3 196.3 165.3 195.0 175.0 191.7 180.3 189.0 195.7 177.7 200.7 173.0 204.3 168.3 207.3 168.3 212.0 170.7 215.3 170.7 217.7 169.7 219.3 168.0 222.3 158.0 222.3 155.3 221.7 154.0 213.7 146.0 213.0 144.3 212.7 137.3 209.7 137.0 183.7 140.3 180.3 141.3 178.7 144.3 178.7 148.3 180.0 151.0 192.0 151.0 193.3 151.3 194.3 152.3 194.0 153.0 189.7 156.3 180.7 161.3 176.0 162.3 167.7 162.3 156.3 160.3 154.0 157.3 150.7 146.3 149.3 143.7 138.3 135.0 126.3 130.0 120.7 130.0 116.7 127.0 114.3 126.0 105.0 127.7 103.7 129.0 104.7 140.0 110.0 151.0 110.0 169.7 108.7 174.3 110.0 181.0 110.0 186.3 108.7 188.0 105.7 188.7 105.0 190.0ZM21.3 111.7 21.3 114.0 26.7 117.3 28.3 120.3 20.0 132.3 12.7 136.0 4.3 136.7 3.3 137.7 3.0 142.0 3.7 145.0 7.0 151.7 6.3 158.3 2.7 165.7 3.3 180.0 9.3 193.3 9.3 194.3 4.7 198.3 3.7 205.0 4.0 208.7 6.0 210.0 49.3 210.0 50.7 209.3 52.0 206.3 52.0 201.7 49.7 194.7 49.7 189.3 51.0 180.0 53.0 178.0 56.7 178.7 58.7 180.7 57.7 193.0 59.7 196.3 64.3 201.7 65.7 202.3 68.0 202.3 78.7 199.0 80.7 196.7 84.0 190.3 83.7 187.7 77.3 179.7 75.0 177.7 66.0 177.0 60.7 170.7 59.7 168.3 61.3 159.3 65.3 149.7 67.3 148.3 73.3 149.0 74.7 148.3 78.3 144.0 78.0 141.7 74.7 138.3 73.7 136.0 73.7 133.3 74.7 130.3 74.0 127.0 67.0 122.7 64.3 120.0 61.3 113.7 58.7 111.3 23.7 111.0ZM156.0 96.0 155.7 98.3 157.0 106.7 156.3 112.0 160.7 122.0 163.0 124.0 171.3 125.7 177.7 125.7 188.7 123.7 209.3 122.0 211.0 121.0 211.3 119.0 210.0 113.3 208.0 110.3 196.7 109.7 195.3 108.3 194.7 104.3 192.7 103.0 178.7 102.7 177.0 101.0 175.3 94.7 174.0 93.7 158.3 94.7ZM194.0 70.7 193.3 72.3 193.3 80.7 195.3 86.0 196.7 87.7 198.0 88.0 200.0 87.0 201.7 84.7 201.3 76.0 199.7 72.7 196.7 71.0ZM119.7 46.3 118.3 45.3 112.3 46.0 105.7 49.0 104.0 51.0 103.3 56.0 102.3 58.3 95.0 64.0 93.7 66.3 93.7 68.0 94.3 68.7 98.7 68.3 106.3 64.3 108.0 64.3 109.7 66.0 110.0 69.7 111.0 71.3 116.0 70.7 119.0 71.7 120.0 70.0ZM180.0 29.7 178.0 31.0 176.7 30.7 176.7 29.7 170.7 29.7 168.7 31.3 169.3 41.0 172.0 44.0 170.7 45.0 168.0 45.7 166.7 47.3 167.3 53.7 170.3 58.3 170.3 60.7 169.3 62.0 166.7 62.3 161.0 60.0 159.3 58.3 157.7 53.7 156.0 52.0 152.0 50.3 148.7 50.0 142.0 52.3 136.0 57.3 135.3 60.3 136.7 63.7 138.3 65.3 141.7 67.0 150.3 66.7 156.3 69.0 164.7 69.7 166.0 71.3 166.0 76.3 169.3 81.3 173.3 81.0 184.7 75.7 190.0 69.3 193.7 68.0 194.3 67.0 194.3 62.7 193.7 59.3 191.7 56.7 179.3 52.3 177.7 50.7 174.7 44.7 176.3 43.3 181.7 43.3 183.0 42.0 183.0 38.3 181.3 37.3 182.7 33.0 182.0 31.0Z"/>
<path fill="#E0107C" fill-rule="evenodd" d="M47.0 273.3 45.3 273.7 43.7 275.3 42.0 281.7 41.3 287.7 42.0 290.3 44.0 293.0 46.3 293.0 50.0 290.0 50.7 287.7 51.0 280.0 48.7 275.0ZM113.0 171.3 111.3 173.3 111.0 176.7 112.3 179.0 114.7 179.3 117.0 176.7 117.0 174.0 115.3 171.7ZM198.7 166.0 196.0 164.0 185.7 162.7 177.3 166.0 172.0 164.7 164.3 164.7 159.3 166.3 158.3 168.0 162.0 175.7 165.3 185.7 170.7 189.0 174.0 189.3 185.7 182.7 195.0 175.3 199.3 170.7 199.7 169.0ZM115.0 143.0 115.0 144.7 116.7 145.7 118.7 145.7 120.3 144.7 120.0 142.3 118.7 141.7 116.7 141.7ZM47.3 123.0 41.3 122.0 35.0 122.0 28.7 124.3 23.7 127.0 20.0 132.3 12.7 136.0 9.7 136.7 7.0 138.3 5.7 140.0 5.7 149.3 7.0 151.7 6.3 158.3 5.3 160.3 5.0 172.3 7.3 184.3 10.0 191.3 12.3 194.3 15.7 194.3 20.7 192.7 38.3 180.3 41.7 177.0 41.7 173.7 41.0 171.7 41.3 167.7 46.0 158.7 52.3 151.7 55.7 145.0 56.7 141.0 56.7 131.3Z"/>
</g>
<use href="#lines"/>
</g>
<g transform="translate(232,0)">
<g clip-path="url(#ger)">
<rect x="0" y="0" width="232" height="332" fill="#38A838"/>
<path fill="#86FB14" fill-rule="evenodd" d="M83.7 160.0 81.7 161.0 81.7 163.0 82.7 164.0 84.3 163.3 85.0 162.3 85.0 161.0ZM67.0 20.3 67.0 23.7 68.3 29.0 73.7 36.0 74.0 38.3 74.0 30.7 76.0 28.0 78.7 27.0 81.0 27.0 83.7 29.0 87.3 34.7 88.0 40.7 87.0 43.0 83.7 46.3 82.0 47.0 79.3 47.0 76.3 45.0 74.3 39.3 74.0 40.7 67.0 42.7 67.0 45.7 67.7 47.0 73.0 49.0 71.7 52.7 71.7 55.7 73.3 58.3 71.0 59.7 66.0 60.7 64.0 62.0 64.7 68.7 62.7 72.7 58.7 77.3 57.3 76.7 56.3 74.7 57.7 70.0 57.7 67.0 53.7 64.0 50.3 64.0 37.7 66.3 23.3 70.3 23.3 73.0 25.3 74.7 30.0 75.0 29.3 76.7 29.3 80.0 30.3 83.0 34.7 85.7 33.3 92.3 30.3 98.0 29.3 106.0 28.7 106.7 21.3 108.3 21.3 114.0 26.0 116.7 28.3 120.7 20.0 132.3 12.7 136.0 2.7 137.0 2.7 140.3 3.7 145.0 7.0 151.7 6.3 158.3 3.7 163.7 0.7 167.0 0.7 170.3 2.7 179.3 9.3 193.3 9.3 194.3 4.7 198.3 3.7 208.7 10.3 218.7 11.3 227.3 13.0 234.0 18.3 242.3 25.7 244.0 40.0 245.3 55.3 249.7 52.7 255.0 45.3 263.3 40.7 274.7 38.3 282.7 37.3 291.3 37.3 297.0 38.3 303.7 42.3 305.7 55.7 304.7 64.0 302.7 65.7 298.7 69.7 300.7 77.3 302.3 90.7 307.3 93.7 307.3 96.0 304.3 99.7 302.3 100.3 300.7 103.7 298.7 104.7 297.0 105.3 274.0 106.7 272.7 108.7 272.0 115.3 271.3 122.3 273.0 126.7 275.0 141.0 289.0 142.7 292.7 143.3 296.3 144.7 298.0 148.7 299.3 149.7 300.3 150.0 303.0 155.7 301.7 160.7 298.3 165.7 299.7 173.0 299.0 175.0 303.7 179.7 305.7 182.7 305.7 183.7 297.0 180.7 294.0 179.7 287.0 175.3 282.0 177.0 279.3 190.3 272.3 191.7 266.3 200.3 261.7 200.0 251.7 194.0 245.3 187.0 241.3 171.3 229.0 169.3 223.3 165.0 217.7 165.7 210.3 161.3 204.0 159.7 200.0 162.7 197.0 169.3 193.7 180.0 191.0 207.0 174.7 207.0 170.0 208.3 168.7 211.3 170.3 215.7 174.3 218.3 174.3 221.0 167.7 222.7 159.0 222.7 155.3 221.0 148.7 215.3 142.0 212.7 133.7 214.3 123.7 214.3 120.3 209.7 113.0 210.3 104.3 208.3 103.7 204.7 99.0 200.0 89.3 202.3 84.7 202.3 80.7 201.3 73.3 199.7 68.7 199.0 63.7 197.0 59.0 197.0 55.7 194.7 51.7 186.3 45.7 182.3 45.3 179.0 46.3 177.3 45.3 178.7 44.0 183.3 44.3 184.3 42.3 184.3 39.3 181.3 37.3 182.7 33.0 182.7 29.7 180.0 29.7 177.3 31.0 176.3 30.3 176.7 26.7 170.7 26.7 166.3 30.3 166.3 33.3 167.3 35.3 166.7 36.3 162.7 37.3 153.0 36.3 150.7 42.7 149.7 43.7 141.0 47.0 133.0 51.0 129.7 53.3 120.3 57.7 120.0 57.3 123.3 53.7 126.0 49.0 126.0 46.3 122.3 43.7 128.3 43.3 130.3 40.7 130.3 38.0 128.3 35.3 121.7 35.7 119.7 37.7 119.7 41.3 116.7 40.0 113.3 40.0 109.7 41.0 104.3 38.7 101.0 35.3 101.0 30.3 100.0 27.3 95.7 23.7 92.7 22.7 89.3 22.7 86.7 23.7 78.0 21.3ZM115.0 212.3 117.3 210.3 122.7 208.7 125.3 208.7 139.3 212.3 151.3 213.7 155.0 214.7 156.7 216.0 161.3 222.3 169.3 230.3 173.0 232.7 175.0 235.0 175.0 237.3 171.7 248.3 171.0 254.3 171.3 258.0 173.0 258.7 177.3 257.0 179.7 255.3 184.7 249.0 186.7 248.3 193.3 249.7 195.0 250.7 198.0 255.7 198.0 259.0 191.0 264.7 183.7 272.0 182.0 272.7 174.7 272.7 173.0 272.0 167.7 267.0 163.3 257.3 161.3 255.0 155.3 250.7 149.0 247.7 145.3 246.7 138.7 246.0 136.7 245.0 133.0 241.0 132.7 236.7 133.7 233.3 136.3 231.3 143.0 229.0 144.3 227.7 144.0 225.0 141.7 223.3 135.7 222.0 122.7 222.0 120.7 221.3 115.7 217.3 114.7 214.3ZM94.7 139.0 98.0 141.3 98.7 142.7 98.7 145.3 97.7 148.7 93.7 156.0 94.7 160.3 94.3 163.7 89.7 167.0 86.7 167.0 79.3 164.0 77.3 161.3 77.3 159.0 82.7 155.3 85.7 151.3 86.7 148.7 86.7 145.0 87.7 142.0 89.7 140.3ZM193.7 101.0 196.7 101.0 198.0 102.7 197.7 104.0 196.0 105.3 193.7 105.0 192.7 103.3ZM56.7 102.0 59.0 100.3 65.0 100.3 67.0 103.0 68.3 106.7 68.3 108.7 66.3 110.0 59.7 110.0 58.0 109.3 56.7 107.3ZM121.7 99.3 124.3 97.3 128.7 95.3 135.7 89.3 149.3 87.0 166.3 89.0 170.3 91.7 172.7 94.7 172.7 96.3 171.0 100.3 168.3 103.7 154.0 109.0 152.7 110.7 152.7 112.3 155.0 120.0 159.7 127.3 159.7 128.7 158.7 129.7 155.7 129.3 148.3 122.7 144.0 120.3 136.7 117.7 131.0 117.0 126.3 115.7 125.3 114.7 124.0 111.3 119.7 108.3 120.3 102.7ZM58.3 78.7 58.3 81.0 57.0 82.3 45.7 86.0 43.3 86.0 41.7 85.0 38.0 80.7 38.0 79.0 38.7 78.0 48.3 72.7 51.0 72.7 55.3 74.7ZM67.7 67.7 71.3 69.0 72.7 70.3 74.0 74.3 74.3 77.7 70.0 88.7 67.7 92.3 65.3 94.7 62.3 95.3 61.3 95.0 60.0 93.0 63.0 85.0 64.7 70.0 66.0 68.0Z"/>
<path fill="#D0FF90" fill-rule="evenodd" d="M150.7 296.0 150.7 297.3 152.0 299.7 152.0 302.7 155.7 301.7 160.7 298.3 165.7 299.7 173.0 299.0 175.0 303.7 179.7 305.7 182.7 305.7 183.0 304.0 182.3 302.7 182.0 295.7 179.7 293.0 174.0 282.7 171.3 281.0 166.3 280.7 165.0 281.3 160.0 290.7 158.3 292.3ZM162.7 111.3 161.0 112.7 161.0 115.7 162.7 118.0 164.3 118.0 166.0 116.0 165.7 113.0 164.7 111.7ZM189.3 96.3 187.7 95.3 176.7 97.0 174.7 99.7 174.0 105.0 176.0 107.3 179.3 109.3 182.0 109.0 189.0 106.0 190.0 105.0 190.3 102.7ZM80.3 87.0 78.3 88.7 77.7 96.0 79.7 98.7 81.3 99.7 83.7 99.7 86.0 96.7 86.3 93.3 84.0 88.0 82.7 87.0ZM176.7 26.7 170.7 26.7 166.3 30.3 166.3 33.3 167.3 35.3 166.7 36.3 162.7 37.3 153.0 36.3 150.7 42.7 149.7 43.7 141.0 47.0 120.7 57.7 120.0 57.3 123.3 53.7 126.0 49.0 126.0 46.3 122.3 43.7 128.3 43.3 130.3 40.7 130.3 38.0 128.3 35.3 121.7 35.7 119.7 37.7 119.7 41.3 116.7 40.0 113.3 40.0 109.7 41.0 104.3 38.7 101.0 35.3 101.0 30.3 99.7 26.7 98.3 29.0 95.0 29.0 93.0 28.3 90.3 28.7 89.7 31.0 91.7 39.3 91.7 42.0 87.0 51.7 85.3 60.3 86.3 62.7 89.0 65.3 90.3 66.0 93.7 65.3 94.7 66.3 98.0 76.0 100.3 80.7 101.7 85.0 102.7 92.3 103.3 106.7 102.7 109.3 98.0 114.3 81.0 114.7 77.7 117.7 73.0 117.3 60.7 113.7 54.7 113.3 50.7 112.3 46.7 112.7 44.3 112.0 42.7 110.3 42.7 109.0 44.3 106.0 44.3 104.0 40.7 98.3 38.3 96.7 33.0 95.7 31.3 97.3 30.3 106.0 29.3 109.0 27.3 110.3 21.3 110.0 21.3 114.0 26.0 116.7 28.3 120.7 20.7 131.7 12.7 136.0 2.7 137.0 2.7 140.3 3.7 145.0 7.0 151.7 6.3 158.3 3.7 163.7 0.7 167.0 0.7 170.3 2.7 179.3 9.3 193.3 9.3 194.3 4.7 198.3 3.7 208.7 10.3 218.7 11.3 227.3 13.0 234.0 18.3 242.3 25.7 244.0 40.0 245.3 55.3 249.7 52.7 255.0 45.3 263.3 41.3 272.7 38.3 282.7 37.3 291.3 38.3 303.7 42.3 305.7 53.3 305.0 64.0 302.7 65.7 298.7 69.7 300.7 77.3 302.3 90.7 307.3 93.7 307.3 96.0 304.3 98.0 303.3 99.0 299.3 103.0 296.7 103.0 273.7 104.0 271.3 107.7 268.0 109.7 263.7 111.3 262.7 112.3 263.0 115.7 267.0 119.0 268.7 138.3 272.7 151.0 273.0 152.7 272.0 157.7 266.3 158.0 265.0 157.0 260.0 155.0 257.0 148.0 254.7 139.7 256.7 137.0 255.0 124.3 243.3 115.3 228.3 110.3 218.0 109.0 216.7 103.7 215.0 100.3 215.3 99.0 217.7 99.0 222.3 98.0 224.3 93.0 222.0 81.3 222.7 79.7 220.3 79.3 210.0 82.0 206.3 85.7 205.0 89.7 201.3 104.0 194.7 106.7 194.7 111.3 197.7 118.0 196.7 121.7 198.7 123.3 198.7 128.7 197.0 132.0 197.0 141.3 199.0 147.0 199.3 156.3 202.7 159.3 204.3 162.0 204.7 159.7 200.0 162.7 197.0 169.3 193.7 180.0 191.0 207.0 174.7 207.0 170.0 208.3 168.7 211.3 170.3 215.7 174.3 218.3 174.3 221.3 166.3 222.7 159.0 222.7 155.3 221.0 148.7 215.3 142.0 212.7 133.7 214.3 123.7 214.3 120.3 209.7 113.0 210.3 104.3 208.3 103.7 204.7 99.0 200.0 89.3 202.3 84.7 202.3 80.7 201.3 73.3 199.7 68.7 199.0 63.7 197.0 59.0 197.0 55.7 194.7 51.7 186.3 45.7 182.3 45.3 179.0 46.3 177.3 45.3 178.7 44.0 183.3 44.3 184.3 42.3 184.3 39.3 181.3 37.3 182.7 33.0 182.7 29.7 180.0 29.7 177.3 31.0 176.3 30.3ZM65.0 273.3 66.3 273.7 67.7 275.3 67.7 277.3 65.7 279.3 64.3 279.0 63.0 277.3 63.0 275.3ZM76.3 210.7 77.3 211.7 77.3 213.7 75.3 216.3 72.3 216.3 70.0 214.3 69.7 213.0 71.0 211.3 74.7 210.3ZM99.7 135.3 103.7 139.0 104.7 141.3 104.7 143.3 103.0 150.7 100.3 155.7 99.0 160.0 97.7 173.0 97.0 174.7 94.0 177.0 87.3 179.3 84.3 179.0 74.0 175.7 71.7 173.3 69.0 168.3 68.7 162.3 69.7 159.3 82.7 146.0 85.3 140.7 89.3 135.7 93.7 134.3 97.3 134.3ZM119.0 95.7 123.0 94.0 127.0 91.3 128.3 89.7 128.3 87.3 129.7 86.0 146.3 83.3 152.3 81.3 167.7 81.3 171.3 82.7 178.7 87.3 191.7 90.0 198.0 92.0 202.0 95.7 203.0 97.3 203.3 107.3 205.7 110.3 205.7 111.3 202.3 113.3 191.3 115.0 185.3 117.3 183.0 119.0 175.0 129.3 174.3 140.3 172.0 142.3 166.7 143.0 164.7 141.7 157.3 132.7 147.0 125.3 137.7 121.0 126.3 120.0 124.3 119.3 123.0 117.7 121.3 112.3 117.3 109.7 117.3 107.3 118.3 105.0Z"/>
<path fill="#FFFFCC" fill-rule="evenodd" d="M93.3 281.0 90.7 283.0 90.0 286.3 92.0 289.0 93.3 289.7 96.7 289.7 99.3 287.7 100.0 284.3 98.0 281.7 95.3 280.7ZM114.7 258.0 114.3 260.3 116.0 264.0 119.0 266.3 122.7 267.3 125.7 266.3 128.7 262.7 128.0 259.7 125.0 256.7 116.7 257.0ZM102.0 218.0 101.0 220.0 101.3 225.7 102.7 226.7 106.3 226.3 107.7 224.3 107.7 221.0 107.0 219.3 104.3 218.0ZM209.7 111.7 204.3 114.7 193.0 116.0 186.0 119.0 181.0 123.7 178.0 128.3 176.7 131.7 176.7 141.0 176.0 143.0 176.3 151.3 175.0 153.7 171.0 157.0 168.0 156.7 165.0 154.3 162.7 142.7 157.3 135.7 151.0 130.3 147.0 127.7 137.0 123.0 122.0 121.7 120.7 120.7 119.3 116.7 117.7 115.7 101.7 115.7 98.7 116.7 83.0 116.7 81.0 118.3 81.0 123.0 80.0 123.3 77.7 121.7 74.7 121.3 67.7 117.3 61.7 115.7 51.3 114.0 43.7 114.3 28.0 119.3 28.3 120.7 20.0 132.3 12.7 136.0 2.7 137.0 2.7 140.3 3.7 145.0 7.0 151.7 6.3 158.3 3.7 163.7 2.0 165.3 2.0 176.7 2.7 179.3 9.3 193.3 9.3 194.3 4.7 198.3 3.7 208.7 10.3 218.7 12.3 231.3 17.3 239.3 21.3 242.7 26.0 242.7 29.7 244.3 33.3 244.3 41.7 245.7 55.3 249.7 52.7 255.0 46.3 262.0 41.0 274.3 38.3 282.7 37.3 297.0 38.0 302.3 39.0 303.7 42.3 304.7 47.0 304.7 55.0 303.0 63.0 303.0 64.0 302.7 65.7 298.7 69.7 300.7 78.7 303.0 93.7 302.0 96.0 301.3 97.0 300.0 97.0 298.0 96.0 297.3 82.7 297.3 71.0 295.7 61.0 290.7 58.7 288.0 56.7 281.7 56.3 278.3 59.0 270.0 61.3 267.7 65.7 265.0 69.3 264.7 76.0 267.7 84.0 275.0 92.3 276.7 98.3 276.3 101.0 274.7 101.7 271.0 105.7 267.0 109.0 260.7 109.3 259.0 108.3 249.3 105.7 239.7 103.0 233.7 98.3 228.0 93.3 224.3 89.3 224.0 76.3 228.0 70.3 228.7 67.0 227.3 65.3 224.7 66.0 214.0 66.7 211.7 69.0 210.0 78.0 207.7 81.0 205.0 84.3 203.7 87.3 199.0 87.0 196.0 84.3 193.3 80.7 191.0 74.0 189.3 69.7 183.7 68.0 179.0 66.3 162.7 67.0 159.0 73.0 153.0 80.3 142.0 82.3 137.0 83.3 129.3 84.3 128.3 86.0 128.3 98.7 132.3 102.7 134.7 105.0 137.0 107.7 141.3 109.0 145.7 108.7 150.0 103.7 154.0 102.3 156.0 101.0 162.0 100.3 170.3 105.0 183.3 108.7 188.3 109.3 192.7 111.0 195.0 114.0 195.3 116.3 194.7 123.3 194.7 127.0 193.7 133.7 194.0 134.0 191.0 135.0 189.3 139.7 188.3 140.7 188.7 142.3 190.7 142.7 193.3 142.0 196.0 142.7 196.7 149.7 197.7 154.7 200.0 158.3 200.3 159.7 200.0 162.7 197.0 169.3 193.7 180.0 191.0 207.0 174.7 207.0 170.0 208.3 168.7 211.3 170.3 215.7 174.3 218.3 174.3 221.3 166.3 222.7 155.3 221.0 148.7 215.3 142.0 213.0 135.0 212.7 132.0 214.3 123.7 214.3 120.3 210.0 113.7ZM196.7 57.3 190.0 49.3 183.0 48.0 177.7 45.7 177.3 44.7 175.3 43.7 170.3 42.7 168.0 40.0 166.7 39.3 162.3 39.0 161.3 40.0 161.3 44.3 159.0 46.3 155.3 46.3 153.7 44.3 153.0 41.3 151.3 41.0 149.7 43.7 144.3 46.0 137.3 52.0 132.3 55.3 129.3 56.0 127.7 54.7 126.7 54.7 120.7 57.7 120.0 57.3 123.3 53.7 124.3 51.7 122.0 49.3 120.7 46.0 119.0 44.3 112.0 41.3 108.7 42.0 103.0 42.0 97.3 43.7 96.0 45.3 95.0 61.0 99.3 73.7 102.7 80.7 105.3 89.7 111.0 98.7 113.7 102.0 116.0 103.7 116.7 102.0 116.0 95.3 114.7 94.3 111.3 93.7 109.7 91.3 109.3 86.3 107.0 81.7 107.0 79.7 108.7 79.0 120.0 79.0 122.3 80.0 125.3 83.0 127.3 83.7 143.7 82.3 153.0 79.0 154.3 77.3 153.7 74.3 154.0 72.3 155.0 71.3 157.7 71.0 160.0 71.7 161.7 73.3 163.3 77.7 164.7 78.7 171.3 79.7 179.0 82.7 186.0 86.3 194.7 88.3 197.7 87.7 202.0 79.3 199.0 63.7ZM145.7 52.3 147.7 54.3 147.0 60.0 145.7 61.7 141.0 63.0 139.0 61.3 138.0 57.3 138.0 54.0 140.0 52.7Z"/>
<path fill="#FFD666" fill-rule="evenodd" d="M207.3 117.3 206.0 116.3 194.0 117.3 187.3 120.3 182.7 124.3 181.7 127.0 182.7 139.7 185.3 148.7 189.3 152.3 187.7 154.0 175.3 159.3 163.7 166.7 161.7 166.7 160.3 165.3 156.0 148.3 151.0 139.7 145.3 133.3 140.7 130.7 133.7 128.3 112.7 124.0 109.3 120.3 103.3 121.3 102.3 122.7 103.3 125.3 109.3 131.3 110.0 133.0 110.0 140.0 111.0 144.0 111.0 149.7 109.7 152.0 105.7 155.0 103.7 157.7 102.3 165.7 102.3 170.0 107.3 183.3 110.7 187.3 111.7 191.3 115.7 191.7 118.3 192.7 121.0 192.7 123.7 191.3 125.0 189.3 124.3 183.7 127.3 178.7 129.7 176.3 132.0 176.3 137.3 178.7 157.3 181.7 163.3 184.3 166.3 185.0 178.7 181.7 195.7 176.0 198.0 174.7 204.7 168.3 206.3 167.7 216.3 168.7 218.3 165.0 219.3 159.3 217.3 157.7 213.0 157.3 211.3 155.7 209.7 148.0 212.0 146.0 212.7 142.0 211.0 129.7ZM50.0 115.3 43.0 116.3 30.0 120.7 26.7 122.7 20.0 132.3 12.7 136.0 4.3 136.7 3.7 137.3 3.7 145.0 7.0 151.7 6.3 158.3 3.7 163.3 3.7 181.3 9.3 193.3 9.3 194.3 4.7 198.3 3.7 207.7 4.3 209.3 7.0 211.7 8.7 216.3 10.3 218.7 10.7 222.7 12.0 227.3 15.0 231.7 18.0 238.0 21.3 241.0 26.0 241.0 31.3 243.0 46.0 246.0 51.3 246.0 53.0 247.3 53.0 249.0 55.3 249.7 52.7 255.0 49.0 259.7 42.7 274.3 38.3 286.7 37.3 294.3 38.7 300.3 40.3 302.7 42.7 303.3 46.7 303.3 52.3 301.7 54.0 300.7 55.0 298.3 56.0 292.7 56.0 288.0 52.7 276.3 52.7 272.7 54.0 264.0 56.0 261.0 64.7 256.0 73.0 254.0 86.7 264.0 97.7 264.3 100.3 262.7 103.3 255.3 103.3 253.0 102.7 251.7 88.7 237.7 81.7 232.0 78.3 230.3 68.3 229.7 66.0 228.3 63.7 225.7 63.3 223.0 65.0 210.3 67.0 208.7 72.3 207.7 77.7 205.7 80.0 203.7 82.7 202.7 85.0 199.0 84.7 196.7 82.0 194.3 78.7 192.7 74.3 192.7 67.0 194.7 65.3 194.7 64.7 194.0 65.0 186.7 63.7 180.3 63.7 175.3 65.0 170.7 65.0 164.3 64.3 160.7 65.3 158.0 70.3 152.3 78.7 139.7 79.7 137.3 79.7 133.7 78.0 126.3 68.3 119.7 64.3 118.0ZM44.3 237.3 46.0 235.3 48.3 235.0 50.7 236.7 51.0 238.3 48.7 240.3 46.7 240.3 44.7 238.7ZM39.7 227.3 42.3 227.7 44.0 229.3 44.0 232.0 41.7 234.0 39.0 233.7 37.0 231.0 37.3 229.3ZM14.3 191.3 16.0 190.7 17.0 192.0 16.3 192.7 15.0 192.7ZM136.0 74.0 136.0 77.0 137.0 79.7 139.7 81.0 143.0 81.0 148.7 79.0 150.0 77.7 150.3 76.3 149.3 72.0 144.3 69.7 141.3 69.7 137.3 72.0ZM183.0 51.3 183.0 52.3 188.0 57.7 190.3 58.3 192.0 57.3 192.0 55.3 189.3 51.7 187.0 50.7 184.3 50.7ZM158.3 51.0 153.3 58.3 153.7 61.7 158.3 68.0 162.0 70.0 165.7 73.3 173.7 76.7 179.7 76.7 183.0 81.3 186.7 84.3 193.7 85.0 195.0 84.0 196.3 79.3 196.3 75.7 194.7 74.0 191.3 72.3 185.0 72.3 184.0 71.0 185.0 61.3 181.3 51.7 177.3 49.0 170.3 47.0 166.7 47.3 160.7 49.3ZM99.3 48.0 98.7 51.3 98.3 62.0 102.0 72.7 104.0 75.3 107.0 76.3 109.3 76.3 112.0 74.7 130.0 68.7 132.3 67.0 132.3 64.7 130.3 60.7 126.0 56.3 124.7 55.7 120.7 57.7 120.0 57.3 123.0 53.7 120.7 51.3 118.0 46.3 112.3 44.3 104.3 44.3 101.0 46.0Z"/>
<path fill="#FFA508" fill-rule="evenodd" d="M117.0 185.7 115.7 187.3 116.7 189.7 118.7 190.7 120.7 190.7 122.7 189.0 122.7 187.3 120.7 185.0 118.3 185.0ZM204.3 159.7 202.7 157.7 199.7 156.0 196.3 156.0 186.3 159.0 179.3 162.3 177.7 164.3 177.3 167.3 179.0 170.0 183.3 172.0 190.7 173.3 195.7 173.3 197.3 172.3 202.7 166.7 204.3 162.3ZM111.7 153.3 110.7 154.0 109.7 156.3 106.7 158.7 105.3 160.7 105.0 168.0 107.0 173.0 109.3 175.7 116.3 177.0 124.0 174.0 126.3 171.0 127.3 166.0 126.0 162.3 123.0 157.3 121.0 155.3 114.3 153.3ZM114.7 132.3 114.7 135.0 117.0 142.0 118.7 145.0 126.0 153.7 140.3 165.3 144.0 169.3 143.0 170.3 133.7 171.7 132.3 172.3 132.7 174.0 138.3 176.7 157.7 179.3 164.0 181.0 168.0 179.7 170.3 177.7 170.7 175.3 169.0 172.7 163.0 173.3 157.7 169.0 153.7 149.0 149.0 140.7 144.7 136.0 139.7 132.7 127.0 130.0 121.3 130.0 116.7 131.0ZM196.3 121.7 196.0 122.7 196.7 124.0 198.7 124.3 199.7 123.7 200.0 122.7 199.3 121.3 197.3 121.0ZM46.7 118.0 42.3 119.0 23.7 127.0 20.0 132.3 12.7 136.0 5.7 136.7 5.3 137.3 5.3 148.7 7.0 151.7 6.3 158.3 5.3 160.0 5.3 185.0 9.3 193.3 9.3 194.3 5.3 197.7 5.3 207.7 6.7 209.0 8.7 209.7 17.7 209.7 19.3 210.3 25.0 218.7 23.7 224.0 21.7 225.0 18.7 225.3 16.7 227.0 16.3 230.3 18.3 236.3 19.3 238.0 21.7 239.7 29.7 239.3 30.3 238.3 30.0 227.0 29.3 225.0 27.7 223.0 27.3 220.7 28.0 219.7 39.7 216.0 42.3 216.7 46.3 219.3 50.3 232.3 53.3 236.3 53.3 239.0 51.7 241.3 51.3 243.0 55.0 246.0 55.3 248.0 54.7 249.3 55.3 249.7 52.0 256.0 50.3 261.3 40.0 284.3 38.3 292.3 39.7 300.0 41.3 302.0 46.0 302.3 51.3 300.3 52.7 299.0 53.3 297.0 54.3 288.7 51.0 278.3 50.3 274.3 52.0 262.7 55.0 259.0 63.0 254.3 73.0 251.7 75.0 252.3 86.7 261.7 89.0 262.3 96.3 262.3 98.7 261.0 101.0 255.7 100.7 252.7 85.0 237.3 79.3 232.7 77.0 231.7 68.0 230.7 63.0 228.0 61.0 225.7 60.7 223.3 62.0 220.0 62.7 212.0 62.0 210.3 59.7 208.3 59.0 204.3 57.3 201.7 57.3 199.0 59.0 191.7 59.0 188.3 56.3 180.7 56.3 178.3 62.3 169.7 62.7 167.0 61.7 163.3 62.0 158.7 66.0 148.7 71.3 141.0 73.0 130.7 72.0 128.3 64.7 121.7ZM13.0 189.0 15.0 188.3 18.0 189.0 19.7 190.7 19.3 193.3 17.3 195.0 13.3 194.7 11.7 192.7 11.7 190.7ZM141.7 72.7 139.7 74.3 139.7 76.3 141.0 78.0 143.3 78.3 145.3 77.0 145.7 74.3 144.0 72.7ZM172.7 58.0 169.7 59.7 168.0 61.7 168.3 67.0 169.0 69.7 170.7 71.7 173.3 72.7 175.7 72.7 178.3 71.0 180.0 68.7 179.7 62.0 178.0 59.0 175.7 58.0ZM104.7 50.7 103.3 53.3 104.0 58.7 105.3 63.3 108.7 67.0 110.3 70.0 111.3 70.7 114.0 70.7 119.0 69.7 122.0 68.3 124.7 64.7 124.7 62.3 123.3 60.0 118.0 55.3 115.7 49.7 112.3 48.0 108.7 48.0Z"/>
<path fill="#FF7080" fill-rule="evenodd" d="M46.0 279.3 43.0 281.7 41.3 284.3 39.7 292.3 40.7 298.7 42.0 300.7 43.7 301.0 47.0 300.7 50.3 298.0 52.0 293.7 51.7 285.3 49.3 281.7 47.7 280.0ZM88.3 250.3 87.0 251.7 87.0 254.3 89.0 256.0 91.7 255.7 93.0 254.3 93.0 251.7 90.7 250.0ZM20.7 234.7 20.0 235.7 21.0 237.3 22.3 237.3 22.3 235.3ZM64.0 231.3 63.7 233.0 64.7 235.0 69.7 239.3 76.7 239.0 78.7 237.7 78.3 234.7 76.3 233.3 70.0 232.7 65.7 231.0ZM182.0 167.3 183.0 169.3 186.0 170.3 194.3 171.3 196.3 169.7 195.7 168.0 186.7 164.7 183.3 165.7ZM111.0 160.7 109.0 162.7 110.3 171.7 111.0 172.7 113.0 173.3 116.7 173.0 118.3 171.7 119.3 169.7 120.0 165.7 116.7 161.0 115.0 160.3ZM120.7 137.0 120.3 139.7 122.3 142.7 136.7 151.0 147.0 160.0 149.3 161.0 150.7 161.0 151.7 160.0 152.0 155.0 148.3 147.0 141.3 140.0 138.0 138.0 128.7 135.0 124.7 135.3ZM47.7 126.3 44.7 126.3 34.0 134.0 33.0 136.7 32.3 142.3 30.3 145.7 20.3 147.7 15.0 152.0 14.0 154.0 14.0 156.3 15.3 164.3 14.3 166.7 8.3 173.3 8.7 176.7 11.3 184.0 14.0 186.0 18.0 186.7 25.3 189.3 29.3 198.3 31.7 200.3 39.7 204.7 43.7 204.3 48.3 203.0 50.0 201.3 53.0 194.0 52.3 184.3 49.3 179.7 52.7 178.3 56.3 174.0 56.7 172.0 55.7 167.7 55.7 161.7 57.7 148.3 60.7 140.0 60.7 136.7 57.7 130.7 54.7 128.7ZM36.7 152.3 39.7 159.3 39.0 162.7 37.3 165.0 35.7 165.7 24.3 165.7 22.7 164.7 22.3 162.7 25.3 155.0 26.3 154.0 32.7 151.3 35.3 151.3ZM118.7 60.0 118.0 60.7 118.0 62.3 120.3 63.0 121.0 61.3Z"/>
<path fill="#F0509A" fill-rule="evenodd" d="M47.0 284.7 44.3 285.0 43.0 287.0 43.0 289.7 43.7 291.0 46.0 292.3 47.7 291.7 49.0 289.7 49.0 287.0ZM45.3 184.0 42.3 184.3 40.3 188.0 40.3 190.3 42.7 193.0 46.0 192.0 47.3 189.7 47.0 185.3Z"/>
</g>
<use href="#lines"/>
</g>
<g transform="translate(462,0)">
<g clip-path="url(#ger)">
<rect x="0" y="0" width="232" height="332" fill="#38A838"/>
<path fill="#86FB14" fill-rule="evenodd" d="M67.0 20.3 67.0 23.7 68.3 29.0 73.7 36.0 74.3 38.7 74.0 40.7 67.0 42.7 67.0 45.7 67.7 47.0 73.0 49.0 71.7 52.7 71.7 55.7 73.3 58.3 71.0 59.7 66.0 60.7 64.0 62.0 64.7 68.7 62.7 72.7 58.7 77.3 57.3 76.7 56.3 74.7 57.7 70.0 57.7 67.0 53.7 64.0 50.3 64.0 37.7 66.3 23.3 70.3 23.3 73.0 25.3 74.7 30.0 75.0 29.3 76.7 29.3 80.0 30.3 83.0 34.7 85.7 33.3 92.3 30.3 98.0 29.3 106.0 28.7 106.7 21.3 108.3 21.3 114.0 26.0 116.7 28.3 120.7 20.0 132.3 12.7 136.0 2.7 137.0 2.7 140.3 3.7 145.0 7.0 151.7 6.3 158.3 3.7 163.7 0.7 167.0 0.7 170.3 2.7 179.3 9.3 193.3 9.3 194.3 4.7 198.3 3.7 208.7 10.3 218.7 11.3 227.3 13.0 234.0 18.3 242.3 25.7 244.0 40.0 245.3 55.3 249.7 52.7 255.0 45.3 263.3 40.7 274.7 38.3 282.7 37.3 291.3 37.3 297.0 38.3 303.7 42.3 305.7 55.7 304.7 64.0 302.7 65.7 298.7 69.7 300.7 77.3 302.3 81.7 304.0 82.0 301.3 84.7 299.7 91.7 298.0 98.7 298.7 99.7 297.0 99.7 293.7 100.7 291.3 108.7 284.3 111.0 283.0 112.7 283.0 129.3 295.3 138.7 299.3 142.7 302.3 149.0 303.3 155.7 301.7 160.7 298.3 165.7 299.7 173.0 299.0 175.0 303.7 179.7 305.7 182.7 305.7 183.7 297.0 180.7 294.0 179.7 287.0 175.3 282.0 177.0 279.3 190.3 272.3 191.7 266.3 200.3 261.7 200.0 251.7 194.0 245.3 187.0 241.3 171.3 229.0 169.3 223.3 165.0 217.7 165.7 210.3 161.3 204.0 159.7 200.0 162.7 197.0 169.3 193.7 180.0 191.0 207.0 174.7 207.0 170.0 208.3 168.7 211.3 170.3 215.7 174.3 218.3 174.3 221.0 167.7 222.7 159.0 222.7 155.3 221.0 148.7 215.3 142.0 212.7 133.7 214.3 123.7 214.3 120.3 209.7 113.0 210.3 104.3 208.3 103.7 204.7 99.0 200.0 89.3 202.3 84.7 202.3 80.7 201.3 73.3 199.7 68.7 199.0 63.7 197.0 59.0 197.0 55.7 194.7 51.7 186.3 45.7 182.3 45.3 179.0 46.3 177.3 45.3 178.7 44.0 183.3 44.3 184.3 42.3 184.3 39.3 181.3 37.3 182.7 33.0 182.7 29.7 180.0 29.7 177.3 31.0 176.3 30.3 176.7 26.7 170.7 26.7 166.3 30.3 166.3 33.3 167.3 35.3 166.7 36.3 162.7 37.3 153.0 36.3 150.7 42.7 149.7 43.7 141.0 47.0 133.0 51.0 129.7 53.3 120.3 57.7 120.0 57.3 123.3 53.7 126.0 49.0 126.0 46.3 122.3 43.7 128.3 43.3 130.3 40.7 130.3 38.0 128.3 35.3 121.7 35.7 119.7 37.7 119.7 41.3 116.7 40.0 113.3 40.0 109.7 41.0 104.3 38.7 101.0 35.3 101.0 30.3 100.0 27.3 95.7 23.7 92.7 22.7 89.3 22.7 86.7 23.7 78.0 21.3ZM108.3 267.0 111.0 270.0 111.0 271.3 109.7 274.0 106.3 277.0 102.7 278.0 101.0 277.7 100.0 275.3 101.3 268.7 104.7 266.7Z"/>
<path fill="#D0FF90" fill-rule="evenodd" d="M33.0 92.7 30.3 98.3 32.7 94.3ZM67.0 20.3 67.0 23.7 68.3 29.0 73.7 36.0 74.3 38.7 74.0 40.7 67.0 42.7 67.0 45.7 67.7 47.0 73.0 49.0 71.7 52.7 71.7 55.7 73.3 58.3 71.0 59.7 66.0 60.7 64.0 62.0 64.7 68.7 61.3 74.3 58.7 77.3 57.3 76.7 56.3 73.3 57.7 70.0 57.7 67.0 53.7 64.0 50.3 64.0 37.7 66.3 23.3 70.3 23.3 73.0 25.3 74.7 30.0 75.0 29.3 76.7 29.3 80.0 30.7 83.7 32.3 84.3 31.7 76.3 33.3 74.0 40.3 70.0 45.7 69.3 51.3 69.7 54.0 72.3 62.0 83.0 64.0 86.7 65.7 95.0 65.0 106.7 64.3 108.7 62.3 110.3 57.3 112.0 41.7 112.0 37.3 110.3 26.7 110.3 25.0 109.0 25.0 107.3 21.3 108.3 21.3 114.0 26.0 116.7 28.3 120.7 20.0 132.3 12.7 136.0 2.7 137.0 2.7 140.3 3.7 145.0 7.0 151.7 6.3 158.3 3.7 163.7 0.7 167.0 0.7 170.3 2.7 179.3 9.3 193.3 9.3 194.3 4.7 198.3 3.7 208.7 10.3 218.7 11.3 227.3 13.0 234.0 18.3 242.3 25.7 244.0 40.0 245.3 55.3 249.7 52.7 255.0 45.3 263.3 40.7 274.7 38.3 282.7 37.3 291.3 37.3 297.0 38.3 303.7 42.3 305.7 46.7 305.7 55.7 304.7 64.0 302.7 63.3 298.3 65.0 295.7 72.3 291.7 90.3 285.0 92.3 283.0 98.0 274.0 99.7 265.7 100.0 254.3 107.7 243.7 108.0 240.0 107.3 236.7 108.0 235.3 115.3 231.3 119.0 230.7 120.0 231.7 120.7 235.0 121.7 236.0 125.7 237.0 127.3 238.7 130.3 244.0 130.3 247.7 128.7 254.3 125.0 262.0 124.3 265.0 127.3 274.7 136.0 288.3 144.3 296.7 147.0 300.7 149.7 301.0 151.7 302.7 155.7 301.7 160.7 298.3 165.7 299.7 173.0 299.0 175.0 303.7 179.7 305.7 182.7 305.7 183.7 297.0 180.7 294.0 179.7 287.0 175.3 282.0 177.0 279.3 190.3 272.3 191.7 266.3 200.3 261.7 200.0 251.7 194.0 245.3 187.0 241.3 171.3 229.0 169.3 223.3 165.0 217.7 165.7 210.3 161.3 204.0 159.7 200.0 162.7 197.0 169.3 193.7 180.0 191.0 207.0 174.7 207.0 170.0 208.3 168.7 211.3 170.3 215.7 174.3 218.3 174.3 221.0 167.7 222.7 159.0 222.7 155.3 221.0 148.7 215.3 142.0 212.7 133.7 214.3 123.7 214.3 120.3 209.7 113.0 210.3 104.3 208.3 103.7 204.7 99.0 200.0 89.3 202.3 84.7 202.3 80.7 201.3 73.3 199.7 68.7 199.0 63.7 197.0 59.0 197.0 55.7 194.7 51.7 186.3 45.7 182.3 45.3 179.0 46.3 177.3 45.3 178.7 44.0 183.3 44.3 184.3 42.3 184.3 39.3 181.3 37.3 182.7 33.0 182.7 29.7 180.0 29.7 177.3 31.0 176.3 30.3 176.7 26.7 170.7 26.7 166.3 30.3 166.3 33.3 167.3 35.3 166.7 36.3 162.7 37.3 153.0 36.3 150.7 42.7 149.7 43.7 141.0 47.0 133.0 51.0 129.7 53.3 120.3 57.7 120.0 57.3 123.3 53.7 126.0 49.0 126.0 46.3 122.3 43.7 128.3 43.3 130.3 40.7 130.3 38.0 128.3 35.3 121.7 35.7 119.7 37.7 119.7 41.3 116.7 40.0 113.3 40.0 109.7 41.0 104.3 38.7 101.0 35.3 101.0 30.3 100.0 27.3 95.7 23.7 92.7 22.7 89.3 22.7 86.7 23.7 78.0 21.3ZM103.3 194.0 107.3 192.3 111.7 192.3 115.3 193.7 119.7 197.0 120.3 198.3 121.7 209.0 120.3 215.3 119.3 217.0 114.7 217.3 102.0 215.3 100.0 213.7 99.0 210.0 99.7 202.0 100.7 197.7ZM89.3 90.7 90.3 89.7 93.7 89.7 104.0 91.0 108.3 90.3 110.7 89.3 114.7 89.3 130.0 91.0 143.7 88.3 148.3 88.3 161.7 90.7 164.0 92.0 165.7 94.0 166.7 97.3 166.0 98.7 159.7 105.0 155.3 107.7 155.0 109.0 157.0 109.7 173.3 109.7 175.3 111.3 177.0 120.3 177.0 125.3 175.7 133.7 173.7 135.3 167.7 134.0 157.0 127.7 149.3 120.0 140.0 116.7 134.3 116.3 126.7 117.7 124.3 117.3 123.0 116.0 121.0 111.0 119.3 110.3 111.3 110.0 110.0 108.7 109.7 104.0 108.7 102.0 95.3 97.3 89.7 92.0ZM82.3 27.0 84.0 25.7 90.7 26.0 93.7 27.0 96.0 28.7 99.0 32.3 98.3 37.7 96.0 39.0 90.3 36.7 88.3 35.3 83.3 30.0Z"/>
<path fill="#FFFFCC" fill-rule="evenodd" d="M136.0 267.3 135.7 273.3 137.3 277.3 142.0 284.7 149.0 291.7 160.0 298.3 165.7 299.7 173.0 299.0 175.0 303.7 179.7 305.7 182.7 305.7 183.7 297.0 181.0 294.3 178.3 293.7 177.0 292.3 175.7 289.0 175.7 285.3 176.3 283.0 175.3 282.0 177.0 278.7 176.7 276.3 175.7 275.0 169.3 270.7 157.0 270.0 145.7 264.7 138.7 265.7ZM170.0 242.7 169.3 244.0 169.7 247.3 172.0 252.0 174.0 254.3 183.3 257.3 192.3 261.7 195.7 260.7 198.0 258.3 197.7 255.7 194.3 248.7 184.3 241.0 177.7 237.7 175.7 237.3 174.7 237.7ZM182.7 29.7 180.0 29.7 177.3 31.0 176.3 30.3 176.7 28.7 169.0 29.0 167.7 30.3 167.7 37.3 166.7 38.7 163.7 39.0 158.7 38.0 154.7 38.3 151.3 40.7 149.7 43.7 145.3 45.3 133.7 54.3 129.7 56.7 123.3 56.3 120.3 57.7 120.0 57.3 121.7 55.7 120.7 55.0 119.7 51.3 118.7 50.3 113.3 51.0 109.3 52.3 100.0 57.0 98.7 58.3 95.7 65.7 96.7 69.0 110.0 82.3 112.3 83.7 116.3 84.7 122.0 85.0 128.7 87.0 131.7 87.0 150.3 83.3 167.3 85.0 169.7 85.7 174.7 88.7 176.0 88.7 176.0 84.7 178.0 83.0 185.0 83.0 186.7 83.7 187.7 85.0 188.3 87.7 188.0 90.7 182.3 94.0 182.3 96.7 185.0 107.7 183.7 109.7 180.0 110.0 178.3 111.0 178.3 115.0 179.3 120.3 179.3 129.0 177.7 140.7 176.3 142.3 173.3 142.3 165.3 139.7 130.3 122.0 120.0 122.3 111.7 123.7 110.0 125.7 108.3 133.7 105.3 135.7 100.0 137.0 98.0 135.7 95.7 131.3 94.3 125.3 90.7 115.3 89.0 113.3 82.0 111.3 79.3 113.3 77.3 114.0 61.0 115.7 24.0 115.7 26.7 117.3 28.3 120.7 20.7 131.7 12.7 136.0 2.7 137.0 2.7 140.3 3.7 145.0 7.0 151.7 6.3 158.3 3.7 163.7 2.0 165.3 2.3 178.0 9.3 193.3 9.3 194.3 4.7 198.3 3.7 208.7 10.3 218.7 12.0 229.7 18.0 236.0 23.3 238.7 27.3 242.0 31.0 244.0 41.7 245.7 47.3 247.3 52.3 246.7 56.7 250.7 56.3 252.3 51.3 256.3 45.3 263.3 40.7 274.7 38.7 281.3 37.7 288.0 37.7 295.7 38.3 300.0 39.3 302.3 40.3 303.0 43.7 303.0 51.7 301.3 54.3 299.3 63.0 285.7 66.7 275.7 67.0 270.7 65.7 264.3 66.0 261.3 75.7 253.0 85.7 246.7 89.3 243.0 96.3 234.0 96.7 231.3 95.0 224.3 93.7 224.0 89.7 228.3 88.0 227.7 85.0 212.3 86.3 210.3 90.3 209.7 92.3 208.0 102.3 190.3 102.3 187.7 100.0 181.7 100.0 178.7 102.7 172.0 103.7 171.0 104.7 171.0 109.7 177.3 110.0 188.3 111.7 190.0 114.7 190.3 119.3 189.3 139.0 189.3 152.3 195.7 154.7 196.0 157.0 193.3 158.3 192.7 169.3 190.7 179.3 187.3 196.3 178.0 204.3 170.7 205.7 170.0 207.0 170.3 208.3 168.7 214.0 172.7 217.0 172.0 220.0 170.0 221.3 166.3 222.3 154.0 221.3 150.0 217.0 147.0 212.3 142.0 213.7 139.0 213.7 136.3 212.7 133.7 213.0 131.0 210.7 115.3 209.3 111.7 208.0 110.3 205.3 109.7 204.0 107.3 203.7 96.7 200.0 89.3 202.3 84.7 201.7 75.3 199.7 68.7 198.7 62.3 197.0 59.0 197.0 57.3 194.7 55.0 183.7 47.3 182.3 45.3 179.0 46.3 177.3 45.3 178.7 44.0 183.0 44.3 184.0 42.7 184.0 39.0 181.3 37.3 182.7 33.0ZM150.7 177.3 152.7 177.0 153.3 178.7 152.0 179.0ZM125.7 174.3 126.7 173.7 130.7 173.3 136.7 175.0 130.3 175.3 126.3 175.0Z"/>
<path fill="#FFD666" fill-rule="evenodd" d="M52.0 261.0 50.3 261.0 49.0 262.0 44.0 269.0 40.3 281.3 39.3 287.0 39.3 296.0 40.3 299.3 42.0 300.7 45.7 300.0 50.3 298.0 55.0 293.3 57.3 289.3 58.3 281.0 57.7 270.0 56.3 266.0ZM177.3 241.0 177.0 242.7 178.0 245.0 182.0 248.3 184.7 249.7 191.0 250.7 191.7 250.0 190.3 248.0 183.3 243.0 179.3 241.0ZM17.3 227.7 16.7 230.0 18.3 233.0 20.3 234.7 22.3 234.7 23.0 234.0 23.0 232.3 21.7 228.0 20.7 227.3ZM115.0 129.7 113.3 129.3 111.7 130.3 111.7 133.7 113.7 133.0 115.0 131.7ZM78.7 120.3 76.7 120.3 64.7 123.7 41.3 121.7 37.3 122.3 24.0 126.7 20.0 132.3 12.7 136.0 5.0 136.7 4.3 139.0 4.0 145.7 7.0 151.7 6.3 158.3 3.3 164.0 4.0 180.3 5.0 184.3 9.3 193.3 9.3 194.3 4.7 198.3 5.0 208.0 8.7 211.3 10.7 215.7 13.0 217.3 20.3 216.3 22.0 215.3 21.3 212.3 18.3 209.0 18.3 206.3 20.0 203.3 22.7 202.3 30.7 202.0 32.7 203.7 34.7 207.7 37.7 209.7 48.0 209.7 50.7 210.7 51.3 211.7 50.3 212.7 44.3 214.7 42.0 216.7 42.0 224.7 42.7 228.7 48.0 240.3 57.7 248.3 62.0 250.3 68.3 249.3 77.3 243.7 80.0 240.7 85.3 231.0 85.7 226.7 83.0 212.3 83.3 209.7 88.3 203.0 93.0 194.7 95.0 185.3 100.0 173.3 102.3 164.7 102.3 161.7 101.7 160.7 93.7 155.7 88.7 148.3 87.0 144.3 85.3 131.7 84.3 128.3 80.7 122.0ZM221.3 153.3 220.7 151.3 215.7 147.7 213.0 144.7 211.7 144.0 203.3 144.3 202.7 143.7 204.3 142.0 210.7 139.3 211.3 138.3 211.3 134.7 208.7 116.7 207.3 114.7 204.7 114.7 194.7 117.7 194.3 120.7 196.3 125.7 196.3 127.7 193.0 132.0 183.3 142.0 183.3 144.3 181.0 145.3 165.7 145.3 130.3 128.0 124.3 128.0 119.3 129.3 117.7 131.3 115.7 140.3 109.0 150.3 109.0 155.7 107.0 159.0 106.3 169.0 108.3 172.7 110.3 174.7 112.0 175.3 118.7 175.7 122.0 172.3 129.0 171.3 153.0 175.0 155.3 177.0 155.7 178.0 155.3 185.3 156.0 189.3 156.7 190.3 159.0 191.0 167.7 189.7 179.0 186.0 196.7 176.3 205.0 168.7 206.7 168.7 207.7 169.3 208.3 168.7 212.3 171.3 214.7 171.3 218.0 170.0 219.7 167.7ZM201.0 99.0 198.0 100.0 193.0 103.7 191.0 107.3 191.0 108.7 191.7 109.3 200.3 109.7 201.7 108.7 202.0 101.0ZM196.3 64.3 194.7 58.3 192.3 56.0 177.3 45.3 178.3 43.0 181.0 42.3 182.0 41.0 182.0 38.0 181.3 37.3 181.7 33.7 181.0 31.7 179.3 30.7 171.7 30.7 169.7 32.3 170.0 38.3 169.0 41.3 167.3 42.7 162.3 43.7 160.3 45.3 160.3 53.7 159.0 55.7 152.0 57.3 139.0 55.7 130.0 59.3 123.0 58.7 117.7 57.3 112.3 57.3 110.0 59.0 108.7 61.7 106.3 64.0 105.3 67.3 106.7 73.7 108.0 75.7 114.7 76.0 122.3 77.3 139.3 75.3 149.0 71.7 153.3 71.7 176.0 75.0 180.0 75.0 188.0 72.0 194.7 68.7 196.3 66.7Z"/>
<path fill="#FFA508" fill-rule="evenodd" d="M47.3 276.7 45.3 276.7 43.7 278.3 41.7 282.7 41.0 287.0 41.0 295.3 43.0 297.0 46.0 296.3 51.3 292.0 52.3 289.7 52.0 281.7 51.0 280.0ZM110.0 159.7 110.0 170.0 110.3 171.3 111.7 172.7 118.0 173.3 120.3 171.3 123.0 170.3 132.0 170.0 153.0 173.3 155.7 174.7 156.7 176.0 157.3 178.3 157.7 186.7 158.3 188.7 161.7 189.0 169.0 188.3 178.0 185.3 196.0 175.7 204.7 167.7 207.0 167.7 212.7 170.3 215.7 170.0 217.7 169.0 219.0 166.0 220.0 152.3 212.7 146.0 211.0 145.3 203.0 146.7 196.3 147.0 191.3 148.3 185.7 148.3 178.0 147.0 171.7 147.0 167.7 147.7 155.7 147.3 153.7 146.3 144.3 138.3 130.3 132.0 122.3 131.7 121.0 132.0 119.3 134.3 118.3 139.3 115.3 146.7 111.3 150.7 111.0 156.3ZM22.0 130.0 20.0 132.3 8.0 138.0 6.3 139.7 5.7 141.3 5.3 148.7 7.0 151.7 6.3 158.3 4.7 161.3 4.3 172.3 6.7 187.7 9.3 193.3 8.7 195.0 16.3 198.0 19.7 198.3 28.7 193.7 31.3 193.3 46.3 198.0 48.7 201.0 50.3 206.7 53.0 208.7 57.3 209.3 58.7 211.0 57.7 213.7 52.7 218.3 52.0 219.7 52.0 223.0 55.3 235.0 59.0 238.0 65.3 241.3 73.7 240.0 77.0 237.3 81.7 230.3 83.0 227.3 80.7 208.0 87.0 194.3 87.0 186.3 90.0 175.0 88.7 158.0 80.0 129.7 78.0 128.0 58.0 129.7 38.3 127.7ZM121.3 62.7 120.7 64.3 121.0 65.3 123.3 67.3 127.0 67.0 128.7 64.3 128.0 62.7 125.7 61.3 123.7 61.3ZM170.3 60.0 170.3 60.7 171.7 61.7 175.0 61.7 176.3 60.7 176.3 60.0 175.0 59.0 171.7 59.0Z"/>
<path fill="#FF7080" fill-rule="evenodd" d="M71.0 177.7 68.0 178.3 60.0 182.7 56.7 183.7 55.3 185.3 54.7 190.0 55.3 192.7 58.7 196.7 59.7 206.3 61.0 210.0 61.3 218.3 60.3 222.3 60.7 229.7 64.3 234.3 66.0 235.0 71.0 233.0 74.0 229.7 76.0 223.0 76.0 215.3 78.7 207.0 84.7 194.3 84.7 189.3 83.0 182.0 80.3 180.0ZM218.3 152.3 212.0 147.7 208.7 147.7 172.0 155.0 167.3 155.0 154.3 152.3 153.0 153.7 153.0 156.0 155.3 166.3 157.0 168.0 162.7 170.3 164.0 172.0 162.0 176.7 162.0 178.7 165.3 185.7 166.3 186.7 168.3 187.0 177.7 184.0 194.3 175.7 197.3 173.7 204.7 166.3 207.3 166.3 213.0 169.0 216.7 168.0 217.7 165.7 218.7 157.3ZM134.3 142.3 131.3 142.3 127.3 143.7 125.0 145.7 125.0 151.0 129.0 155.0 128.0 156.0 125.3 156.7 124.7 157.7 125.0 160.3 126.3 161.7 128.7 162.0 131.0 161.3 132.0 160.3 131.7 156.3 133.3 155.0 139.0 153.7 141.0 151.3 141.3 148.7 140.3 146.7ZM9.0 140.7 7.7 142.0 7.3 143.3 7.3 153.0 5.3 164.0 5.7 173.3 7.7 180.3 9.0 182.7 14.3 188.0 16.3 189.0 28.0 187.7 35.7 185.0 38.0 185.0 38.7 186.3 37.0 189.7 37.7 192.0 46.7 195.7 49.3 195.7 51.7 194.3 53.7 191.3 51.3 184.0 49.0 181.3 48.7 180.0 52.3 174.7 58.0 155.0 57.7 144.0 56.3 140.7 49.3 134.0 39.0 132.0 33.7 132.0 21.3 134.3Z"/>
<path fill="#F0509A" fill-rule="evenodd" d="M201.3 163.7 198.3 160.7 196.0 159.7 187.0 161.0 184.0 162.3 177.3 167.7 176.3 169.0 176.3 171.7 178.7 176.0 180.0 177.0 188.0 177.0 194.7 174.0 197.0 172.3 201.0 167.7 202.0 165.7ZM158.3 159.0 157.3 160.3 157.7 161.3 158.7 161.7 159.3 161.0 159.3 159.7ZM46.0 143.0 39.7 139.7 35.3 139.0 22.0 141.7 12.0 148.0 10.0 150.0 9.3 152.0 9.0 156.0 6.7 165.3 7.0 170.7 8.7 175.7 14.3 180.3 16.0 181.0 19.0 181.0 29.3 179.3 41.0 173.7 47.0 165.7 49.0 156.0 49.0 151.0 48.0 146.3Z"/>
</g>
<use href="#lines"/>
</g>
<rect x="106.5" y="0.5" width="41.4" height="21" fill="#fff" stroke="#8a7f7f" stroke-width="1"/>
<text class="b" x="129.0" y="14.4" font-size="12.7" text-anchor="middle" fill="#000">1995</text>
<rect x="344.8" y="0.5" width="41.2" height="21" fill="#fff" stroke="#8a7f7f" stroke-width="1"/>
<text class="b" x="366.5" y="14.4" font-size="12.7" text-anchor="middle" fill="#000">2000</text>
<rect x="571.2" y="0.5" width="41.6" height="21" fill="#fff" stroke="#8a7f7f" stroke-width="1"/>
<text class="b" x="593.0" y="14.4" font-size="12.7" text-anchor="middle" fill="#000">2005</text>
<text x="214.9" y="16.3" font-size="7.8">MMI - 12 Elemente</text>
<rect x="215.3" y="18.90" width="15.5" height="8.82" fill="#E0107C"/>
<path d="M215.3 27.50h15.5" stroke="#8a6a5a" stroke-width="0.6" stroke-dasharray="1.2 0.8" opacity="0.8"/>
<text x="234.8" y="25.30" font-size="7.8">&gt; 8</text>
<rect x="215.3" y="27.72" width="15.5" height="8.82" fill="#F0509A"/>
<path d="M215.3 36.32h15.5" stroke="#8a6a5a" stroke-width="0.6" stroke-dasharray="1.2 0.8" opacity="0.8"/>
<text x="234.8" y="34.12" font-size="7.8">8 - 9</text>
<rect x="215.3" y="36.54" width="15.5" height="8.82" fill="#FF7080"/>
<path d="M215.3 45.14h15.5" stroke="#8a6a5a" stroke-width="0.6" stroke-dasharray="1.2 0.8" opacity="0.8"/>
<text x="234.8" y="42.94" font-size="7.8">7 - 8</text>
<rect x="215.3" y="45.36" width="15.5" height="8.82" fill="#FFA508"/>
<path d="M215.3 53.96h15.5" stroke="#8a6a5a" stroke-width="0.6" stroke-dasharray="1.2 0.8" opacity="0.8"/>
<text x="234.8" y="51.76" font-size="7.8">6 - 7</text>
<rect x="215.3" y="54.18" width="15.5" height="8.82" fill="#FFD666"/>
<path d="M215.3 62.78h15.5" stroke="#8a6a5a" stroke-width="0.6" stroke-dasharray="1.2 0.8" opacity="0.8"/>
<text x="234.8" y="60.58" font-size="7.8">5 - 6</text>
<rect x="215.3" y="63.00" width="15.5" height="8.82" fill="#FFFFCC"/>
<path d="M215.3 71.60h15.5" stroke="#8a6a5a" stroke-width="0.6" stroke-dasharray="1.2 0.8" opacity="0.8"/>
<text x="234.8" y="69.40" font-size="7.8">4 - 5</text>
<rect x="215.3" y="71.82" width="15.5" height="8.82" fill="#D0FF90"/>
<path d="M215.3 80.42h15.5" stroke="#8a6a5a" stroke-width="0.6" stroke-dasharray="1.2 0.8" opacity="0.8"/>
<text x="234.8" y="78.22" font-size="7.8">3 - 4</text>
<rect x="215.3" y="80.64" width="15.5" height="8.82" fill="#86FB14"/>
<path d="M215.3 89.24h15.5" stroke="#8a6a5a" stroke-width="0.6" stroke-dasharray="1.2 0.8" opacity="0.8"/>
<text x="234.8" y="87.04" font-size="7.8">2 - 3</text>
<rect x="215.3" y="89.46" width="15.5" height="8.82" fill="#38A838"/>
<path d="M215.3 98.06h15.5" stroke="#8a6a5a" stroke-width="0.6" stroke-dasharray="1.2 0.8" opacity="0.8"/>
<text x="234.8" y="95.86" font-size="7.8">&lt; 2</text>
<text x="445.3" y="16.3" font-size="7.8">MMI - 12 Elemente</text>
<rect x="445.7" y="18.90" width="15.5" height="8.82" fill="#E0107C"/>
<path d="M445.7 27.50h15.5" stroke="#8a6a5a" stroke-width="0.6" stroke-dasharray="1.2 0.8" opacity="0.8"/>
<text x="465.2" y="25.30" font-size="7.8">&gt; 8</text>
<rect x="445.7" y="27.72" width="15.5" height="8.82" fill="#F0509A"/>
<path d="M445.7 36.32h15.5" stroke="#8a6a5a" stroke-width="0.6" stroke-dasharray="1.2 0.8" opacity="0.8"/>
<text x="465.2" y="34.12" font-size="7.8">8 - 9</text>
<rect x="445.7" y="36.54" width="15.5" height="8.82" fill="#FF7080"/>
<path d="M445.7 45.14h15.5" stroke="#8a6a5a" stroke-width="0.6" stroke-dasharray="1.2 0.8" opacity="0.8"/>
<text x="465.2" y="42.94" font-size="7.8">7 - 8</text>
<rect x="445.7" y="45.36" width="15.5" height="8.82" fill="#FFA508"/>
<path d="M445.7 53.96h15.5" stroke="#8a6a5a" stroke-width="0.6" stroke-dasharray="1.2 0.8" opacity="0.8"/>
<text x="465.2" y="51.76" font-size="7.8">6 - 7</text>
<rect x="445.7" y="54.18" width="15.5" height="8.82" fill="#FFD666"/>
<path d="M445.7 62.78h15.5" stroke="#8a6a5a" stroke-width="0.6" stroke-dasharray="1.2 0.8" opacity="0.8"/>
<text x="465.2" y="60.58" font-size="7.8">5 - 6</text>
<rect x="445.7" y="63.00" width="15.5" height="8.82" fill="#FFFFCC"/>
<path d="M445.7 71.60h15.5" stroke="#8a6a5a" stroke-width="0.6" stroke-dasharray="1.2 0.8" opacity="0.8"/>
<text x="465.2" y="69.40" font-size="7.8">4 - 5</text>
<rect x="445.7" y="71.82" width="15.5" height="8.82" fill="#D0FF90"/>
<path d="M445.7 80.42h15.5" stroke="#8a6a5a" stroke-width="0.6" stroke-dasharray="1.2 0.8" opacity="0.8"/>
<text x="465.2" y="78.22" font-size="7.8">3 - 4</text>
<rect x="445.7" y="80.64" width="15.5" height="8.82" fill="#86FB14"/>
<path d="M445.7 89.24h15.5" stroke="#8a6a5a" stroke-width="0.6" stroke-dasharray="1.2 0.8" opacity="0.8"/>
<text x="465.2" y="87.04" font-size="7.8">2 - 3</text>
<rect x="445.7" y="89.46" width="15.5" height="8.82" fill="#38A838"/>
<path d="M445.7 98.06h15.5" stroke="#8a6a5a" stroke-width="0.6" stroke-dasharray="1.2 0.8" opacity="0.8"/>
<text x="465.2" y="95.86" font-size="7.8">&lt; 2</text>
<rect x="37.0" y="324.3" width="170.2" height="152.3" fill="#EEEEEE"/>
<path d="M37.0 476.6V324.3H207.2" fill="none" stroke="#8a7676" stroke-width="1"/>
<path d="M207.2 324.3V476.6" fill="none" stroke="#9a8c8c" stroke-width="0.8" stroke-dasharray="1 1"/>
<rect x="114.00" y="470.9" width="7.60" height="5.7" fill="#DEDD9E" stroke="#4a2626" stroke-width="0.7"/>
<rect x="121.60" y="451.6" width="7.60" height="25.0" fill="#DEDD9E" stroke="#4a2626" stroke-width="0.7"/>
<rect x="129.20" y="422.5" width="7.60" height="54.1" fill="#DEDD9E" stroke="#4a2626" stroke-width="0.7"/>
<rect x="136.80" y="397.3" width="7.60" height="79.3" fill="#DEDD9E" stroke="#4a2626" stroke-width="0.7"/>
<rect x="144.40" y="383.5" width="7.60" height="93.1" fill="#DEDD9E" stroke="#4a2626" stroke-width="0.7"/>
<rect x="152.00" y="353.3" width="7.60" height="123.3" fill="#DEDD9E" stroke="#4a2626" stroke-width="0.7"/>
<rect x="159.60" y="346.2" width="7.60" height="130.4" fill="#DEDD9E" stroke="#4a2626" stroke-width="0.7"/>
<rect x="167.20" y="346.2" width="7.60" height="130.4" fill="#DEDD9E" stroke="#4a2626" stroke-width="0.7"/>
<rect x="174.80" y="387.4" width="7.60" height="89.2" fill="#DEDD9E" stroke="#4a2626" stroke-width="0.7"/>
<rect x="182.40" y="432.4" width="7.60" height="44.2" fill="#DEDD9E" stroke="#4a2626" stroke-width="0.7"/>
<rect x="190.00" y="434.2" width="7.60" height="42.4" fill="#DEDD9E" stroke="#4a2626" stroke-width="0.7"/>
<path d="M36.5 476.6H207.2" fill="none" stroke="#3a2c2c" stroke-width="1.1"/>
<path d="M37.0 476.6h-5M37.0 435.2h-5M37.0 394.4h-5M37.0 352.7h-5M45.6 476.6v4.5M76.0 476.6v4.5M106.4 476.6v4.5M136.8 476.6v4.5M167.2 476.6v4.5M197.6 476.6v4.5" fill="none" stroke="#222" stroke-width="0.9"/>
<text class="b" x="30.8" y="479.2" font-size="7.3" text-anchor="end">0</text>
<text class="b" x="30.8" y="437.8" font-size="7.3" text-anchor="end">2.000</text>
<text class="b" x="30.8" y="397.0" font-size="7.3" text-anchor="end">4.000</text>
<text class="b" x="30.8" y="355.3" font-size="7.3" text-anchor="end">6.000</text>
<text class="b" x="45.6" y="490.7" font-size="7" text-anchor="middle">0</text>
<text class="b" x="76.0" y="490.7" font-size="7" text-anchor="middle">2</text>
<text class="b" x="106.4" y="490.7" font-size="7" text-anchor="middle">4</text>
<text class="b" x="136.8" y="490.7" font-size="7" text-anchor="middle">6</text>
<text class="b" x="167.2" y="490.7" font-size="7" text-anchor="middle">8</text>
<text class="b" x="197.6" y="490.7" font-size="7" text-anchor="middle">10</text>
<text class="b" x="120.4" y="501.2" font-size="6.5" text-anchor="middle">MMI - 12 Elemente</text>
<text class="b" transform="translate(9.0,400.5) rotate(-90)" font-size="7.5" text-anchor="middle">Häufigkeit</text>
<text class="b" x="64.0" y="370.2" font-size="9.3">Anzahl:</text>
<text class="b" x="61.8" y="381.8" font-size="9.3">Median:</text>
<text class="b" x="130.2" y="370.2" font-size="9.3" text-anchor="end">39751</text>
<text class="b" x="130.2" y="381.8" font-size="9.3" text-anchor="end">7,6</text>
<rect x="255.7" y="324.9" width="169.5" height="152.5" fill="#EEEEEE"/>
<path d="M255.7 477.4V324.9H425.2" fill="none" stroke="#8a7676" stroke-width="1"/>
<path d="M425.2 324.9V477.4" fill="none" stroke="#9a8c8c" stroke-width="0.8" stroke-dasharray="1 1"/>
<rect x="279.10" y="440.3" width="7.65" height="37.1" fill="#DEDD9E" stroke="#4a2626" stroke-width="0.7"/>
<rect x="286.75" y="413.5" width="7.65" height="63.9" fill="#DEDD9E" stroke="#4a2626" stroke-width="0.7"/>
<rect x="294.40" y="397.3" width="7.65" height="80.1" fill="#DEDD9E" stroke="#4a2626" stroke-width="0.7"/>
<rect x="302.05" y="404.2" width="7.65" height="73.2" fill="#DEDD9E" stroke="#4a2626" stroke-width="0.7"/>
<rect x="309.70" y="413.3" width="7.65" height="64.1" fill="#DEDD9E" stroke="#4a2626" stroke-width="0.7"/>
<rect x="317.35" y="415.3" width="7.65" height="62.1" fill="#DEDD9E" stroke="#4a2626" stroke-width="0.7"/>
<rect x="325.00" y="419.3" width="7.65" height="58.1" fill="#DEDD9E" stroke="#4a2626" stroke-width="0.7"/>
<rect x="332.65" y="418.5" width="7.65" height="58.9" fill="#DEDD9E" stroke="#4a2626" stroke-width="0.7"/>
<rect x="340.30" y="406.6" width="7.65" height="70.8" fill="#DEDD9E" stroke="#4a2626" stroke-width="0.7"/>
<rect x="347.95" y="411.3" width="7.65" height="66.1" fill="#DEDD9E" stroke="#4a2626" stroke-width="0.7"/>
<rect x="355.60" y="417.3" width="7.65" height="60.1" fill="#DEDD9E" stroke="#4a2626" stroke-width="0.7"/>
<rect x="363.25" y="426.4" width="7.65" height="51.0" fill="#DEDD9E" stroke="#4a2626" stroke-width="0.7"/>
<rect x="370.90" y="436.3" width="7.65" height="41.1" fill="#DEDD9E" stroke="#4a2626" stroke-width="0.7"/>
<rect x="378.55" y="452.0" width="7.65" height="25.4" fill="#DEDD9E" stroke="#4a2626" stroke-width="0.7"/>
<rect x="386.20" y="472.5" width="7.65" height="4.9" fill="#DEDD9E" stroke="#4a2626" stroke-width="0.7"/>
<rect x="393.85" y="476.3" width="7.65" height="1.1" fill="#DEDD9E" stroke="#4a2626" stroke-width="0.7"/>
<path d="M255.2 477.4H425.2" fill="none" stroke="#3a2c2c" stroke-width="1.1"/>
<path d="M255.7 477.4h-5M255.7 436.1h-5M255.7 395.4h-5M255.7 353.3h-5M263.8 477.4v4.5M294.4 477.4v4.5M325.0 477.4v4.5M355.6 477.4v4.5M386.2 477.4v4.5M416.8 477.4v4.5" fill="none" stroke="#222" stroke-width="0.9"/>
<text class="b" x="249.5" y="480.0" font-size="7.3" text-anchor="end">0</text>
<text class="b" x="249.5" y="438.7" font-size="7.3" text-anchor="end">2.000</text>
<text class="b" x="249.5" y="398.0" font-size="7.3" text-anchor="end">4.000</text>
<text class="b" x="249.5" y="355.9" font-size="7.3" text-anchor="end">6.000</text>
<text class="b" x="263.8" y="491.5" font-size="7" text-anchor="middle">0</text>
<text class="b" x="294.4" y="491.5" font-size="7" text-anchor="middle">2</text>
<text class="b" x="325.0" y="491.5" font-size="7" text-anchor="middle">4</text>
<text class="b" x="355.6" y="491.5" font-size="7" text-anchor="middle">6</text>
<text class="b" x="386.2" y="491.5" font-size="7" text-anchor="middle">8</text>
<text class="b" x="416.8" y="491.5" font-size="7" text-anchor="middle">10</text>
<text class="b" x="340.0" y="502.0" font-size="6.5" text-anchor="middle">MMI - 12 Elemente</text>
<text class="b" transform="translate(227.6,401.1) rotate(-90)" font-size="7.5" text-anchor="middle">Häufigkeit</text>
<text class="b" x="306.7" y="369.6" font-size="9.3">Anzahl:</text>
<text class="b" x="304.5" y="381.2" font-size="9.3">Median:</text>
<text class="b" x="372.6" y="369.6" font-size="9.3" text-anchor="end">39751</text>
<text class="b" x="372.6" y="381.2" font-size="9.3" text-anchor="end">4,3</text>
<rect x="479.1" y="324.3" width="172.1" height="154.1" fill="#EEEEEE"/>
<path d="M479.1 478.4V324.3H651.2" fill="none" stroke="#8a7676" stroke-width="1"/>
<path d="M651.2 324.3V478.4" fill="none" stroke="#9a8c8c" stroke-width="0.8" stroke-dasharray="1 1"/>
<rect x="511.14" y="466.5" width="7.71" height="11.9" fill="#DEDD9E" stroke="#4a2626" stroke-width="0.7"/>
<rect x="518.86" y="432.4" width="7.71" height="46.0" fill="#DEDD9E" stroke="#4a2626" stroke-width="0.7"/>
<rect x="526.58" y="410.3" width="7.71" height="68.1" fill="#DEDD9E" stroke="#4a2626" stroke-width="0.7"/>
<rect x="534.29" y="368.6" width="7.71" height="109.8" fill="#DEDD9E" stroke="#4a2626" stroke-width="0.7"/>
<rect x="542.00" y="375.9" width="7.71" height="102.5" fill="#DEDD9E" stroke="#4a2626" stroke-width="0.7"/>
<rect x="549.72" y="401.3" width="7.71" height="77.1" fill="#DEDD9E" stroke="#4a2626" stroke-width="0.7"/>
<rect x="557.43" y="408.3" width="7.71" height="70.1" fill="#DEDD9E" stroke="#4a2626" stroke-width="0.7"/>
<rect x="565.15" y="401.3" width="7.71" height="77.1" fill="#DEDD9E" stroke="#4a2626" stroke-width="0.7"/>
<rect x="572.87" y="418.9" width="7.71" height="59.5" fill="#DEDD9E" stroke="#4a2626" stroke-width="0.7"/>
<rect x="580.58" y="429.4" width="7.71" height="49.0" fill="#DEDD9E" stroke="#4a2626" stroke-width="0.7"/>
<rect x="588.29" y="432.4" width="7.71" height="46.0" fill="#DEDD9E" stroke="#4a2626" stroke-width="0.7"/>
<rect x="596.01" y="434.4" width="7.71" height="44.0" fill="#DEDD9E" stroke="#4a2626" stroke-width="0.7"/>
<rect x="603.73" y="450.6" width="7.71" height="27.8" fill="#DEDD9E" stroke="#4a2626" stroke-width="0.7"/>
<rect x="611.44" y="459.2" width="7.71" height="19.2" fill="#DEDD9E" stroke="#4a2626" stroke-width="0.7"/>
<rect x="619.15" y="461.5" width="7.71" height="16.9" fill="#DEDD9E" stroke="#4a2626" stroke-width="0.7"/>
<path d="M478.6 478.4H651.2" fill="none" stroke="#3a2c2c" stroke-width="1.1"/>
<path d="M479.1 478.4h-5M479.1 437.1h-5M479.1 395.4h-5M479.1 353.1h-5M488.0 478.4v4.5M518.9 478.4v4.5M549.7 478.4v4.5M580.6 478.4v4.5M611.4 478.4v4.5M642.3 478.4v4.5" fill="none" stroke="#222" stroke-width="0.9"/>
<text class="b" x="472.9" y="481.0" font-size="7.3" text-anchor="end">0</text>
<text class="b" x="472.9" y="439.7" font-size="7.3" text-anchor="end">2.000</text>
<text class="b" x="472.9" y="398.0" font-size="7.3" text-anchor="end">4.000</text>
<text class="b" x="472.9" y="355.7" font-size="7.3" text-anchor="end">6.000</text>
<text class="b" x="488.0" y="492.5" font-size="7" text-anchor="middle">0</text>
<text class="b" x="518.9" y="492.5" font-size="7" text-anchor="middle">2</text>
<text class="b" x="549.7" y="492.5" font-size="7" text-anchor="middle">4</text>
<text class="b" x="580.6" y="492.5" font-size="7" text-anchor="middle">6</text>
<text class="b" x="611.4" y="492.5" font-size="7" text-anchor="middle">8</text>
<text class="b" x="642.3" y="492.5" font-size="7" text-anchor="middle">10</text>
<text class="b" x="565.0" y="503.0" font-size="6.5" text-anchor="middle">MMI - 12 Elemente</text>
<text class="b" transform="translate(451.0,401.4) rotate(-90)" font-size="7.5" text-anchor="middle">Häufigkeit</text>
<text class="b" x="568.3" y="367.6" font-size="9.3">Anzahl:</text>
<text class="b" x="566.1" y="379.2" font-size="9.3">Median:</text>
<text class="b" x="635.0" y="367.6" font-size="9.3" text-anchor="end">39744</text>
<text class="b" x="635.0" y="379.2" font-size="9.3" text-anchor="end">4,4</text>
</svg></body></html>
